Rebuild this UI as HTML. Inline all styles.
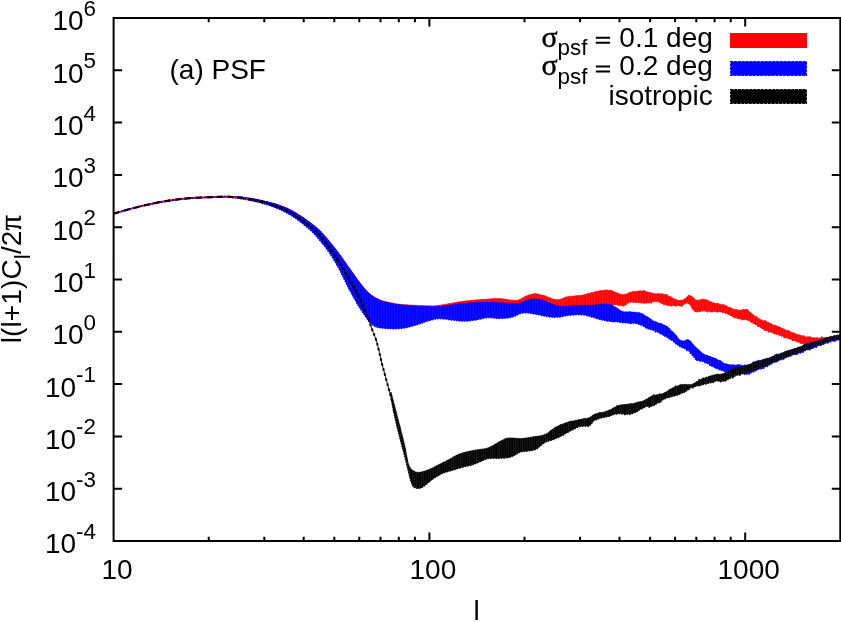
<!DOCTYPE html>
<html><head><meta charset="utf-8"><title>PSF power spectrum</title>
<style>
html,body{margin:0;padding:0;background:#fff;}
body{width:841px;height:622px;overflow:hidden;position:relative;font-family:"Liberation Sans",sans-serif;}
</style></head><body>
<svg width="841" height="622" viewBox="0 0 841 622" style="position:absolute;left:0;top:0;will-change:transform;opacity:0.999">
<rect width="841" height="622" fill="#fff"/>
<defs>
<pattern id="vr" width="2.7" height="8" patternUnits="userSpaceOnUse"><rect width="1.1" height="8" fill="#ff1c1c"/></pattern>
<pattern id="vb" width="2.7" height="8" patternUnits="userSpaceOnUse"><rect width="1.1" height="8" fill="#1414ff"/></pattern>
<pattern id="vk" width="2.3" height="8" patternUnits="userSpaceOnUse"><rect width="1.0" height="8" fill="#1c1c1c"/></pattern>
</defs>
<path d="M232.0,196.8 L233.0,196.8 L234.4,196.8 L236.1,196.8 L238.0,196.9 L240.0,197.0 L241.3,197.1 L242.7,197.3 L244.2,197.4 L245.8,197.6 L247.4,197.8 L249.0,198.0 L250.6,198.3 L252.1,198.5 L253.6,198.8 L255.1,199.0 L256.6,199.3 L258.1,199.6 L259.6,199.9 L261.1,200.2 L262.6,200.6 L264.1,200.9 L265.6,201.3 L267.1,201.6 L268.6,202.0 L270.1,202.4 L271.7,202.8 L273.2,203.2 L274.7,203.6 L276.2,204.1 L277.5,204.5 L278.9,205.0 L280.2,205.4 L281.6,205.9 L282.9,206.4 L284.3,206.9 L285.6,207.5 L287.0,208.1 L288.3,208.7 L289.6,209.4 L291.0,210.0 L292.3,210.8 L293.6,211.5 L295.0,212.3 L296.3,213.1 L297.6,213.9 L299.0,214.7 L300.3,215.6 L301.5,216.4 L302.8,217.2 L304.1,218.1 L305.3,219.0 L306.6,219.9 L307.9,220.8 L309.1,221.7 L310.3,222.6 L311.4,223.4 L312.4,224.2 L313.7,225.2 L314.8,226.1 L315.9,226.9 L316.8,227.7 L317.8,228.5 L318.8,229.5 L320.0,230.6 L320.9,231.5 L321.8,232.5 L322.7,233.5 L323.7,234.6 L324.7,235.7 L325.7,236.8 L326.6,238.0 L327.6,239.2 L328.6,240.3 L329.6,241.5 L330.6,242.7 L331.5,243.9 L332.5,245.1 L333.5,246.3 L334.5,247.5 L335.4,248.8 L336.4,250.1 L337.4,251.3 L338.3,252.6 L339.3,253.9 L340.2,255.1 L341.1,256.3 L341.9,257.5 L342.8,258.7 L343.7,260.0 L344.5,261.2 L345.4,262.4 L346.3,263.7 L347.1,264.9 L348.0,266.2 L348.9,267.4 L349.8,268.6 L350.7,269.9 L351.5,271.1 L352.4,272.4 L353.3,273.6 L354.2,274.9 L355.1,276.1 L356.0,277.4 L356.8,278.6 L357.7,279.7 L358.6,280.9 L359.6,282.2 L360.5,283.4 L361.5,284.7 L362.4,285.9 L363.4,287.2 L364.4,288.3 L365.3,289.5 L366.3,290.6 L367.2,291.6 L368.2,292.5 L369.4,293.6 L370.6,294.5 L371.8,295.3 L373.0,296.1 L374.2,296.8 L375.4,297.5 L376.6,298.1 L377.8,298.7 L379.1,299.3 L380.4,299.9 L381.7,300.4 L382.9,300.8 L384.3,301.2 L385.8,301.6 L387.5,302.0 L388.8,302.3 L390.1,302.6 L391.4,302.8 L392.8,303.1 L394.2,303.4 L395.7,303.6 L397.3,303.9 L399.1,304.1 L400.9,304.3 L402.9,304.5 L404.2,304.6 L405.5,304.7 L407.0,304.8 L408.5,304.9 L410.1,305.0 L411.8,305.1 L413.5,305.2 L415.2,305.3 L416.8,305.4 L418.5,305.5 L420.2,305.5 L421.8,305.6 L423.3,305.7 L424.8,305.7 L426.2,305.7 L427.4,305.8 L428.6,305.8 L430.6,305.8 L432.2,305.9 L433.4,305.9 L434.4,305.8 L435.4,305.8 L436.6,305.6 L438.1,305.5 L440.0,305.2 L441.1,305.0 L442.4,304.8 L443.7,304.6 L445.1,304.4 L446.5,304.1 L448.0,303.8 L449.6,303.5 L451.1,303.2 L452.7,302.9 L454.3,302.6 L455.9,302.4 L457.6,302.1 L459.2,301.8 L460.7,301.5 L462.3,301.3 L463.8,301.1 L465.3,300.9 L466.9,300.7 L468.4,300.6 L470.0,300.4 L471.6,300.2 L473.2,300.1 L474.9,300.0 L476.4,299.8 L478.0,299.7 L479.5,299.6 L481.0,299.5 L482.5,299.3 L483.9,299.2 L485.2,299.2 L486.4,299.1 L487.6,299.0 L489.6,298.9 L491.3,298.7 L492.7,298.6 L494.0,298.5 L495.2,298.5 L496.5,298.4 L497.9,298.5 L499.5,298.5 L500.9,298.4 L502.3,298.8 L503.9,298.9 L505.5,299.3 L507.1,299.5 L508.8,299.7 L510.4,300.0 L512.0,300.3 L513.5,300.2 L514.8,300.3 L516.1,300.5 L517.8,300.1 L519.3,299.6 L520.7,298.9 L521.9,298.2 L523.1,297.5 L524.3,296.8 L525.6,296.2 L527.0,295.8 L528.3,295.1 L529.7,294.8 L531.0,294.4 L532.4,294.1 L533.7,293.8 L535.1,293.6 L536.7,293.9 L538.2,293.9 L539.7,294.5 L541.3,294.9 L542.9,295.2 L544.6,295.5 L546.0,296.2 L547.4,296.7 L548.9,297.5 L550.4,297.8 L551.9,298.7 L553.5,299.1 L555.0,299.6 L556.5,299.5 L558.0,299.7 L559.4,299.4 L560.9,298.9 L562.3,298.6 L563.8,298.0 L565.3,297.0 L566.8,296.9 L568.4,296.5 L569.7,296.2 L571.1,296.4 L572.6,296.1 L574.1,296.1 L575.5,295.8 L577.0,295.5 L578.5,295.5 L580.0,295.5 L581.4,295.2 L582.7,295.0 L584.3,294.5 L585.8,294.3 L587.3,293.5 L588.8,293.5 L590.2,292.9 L591.7,292.5 L593.1,292.4 L594.6,291.9 L596.1,291.3 L597.7,291.3 L599.3,290.8 L600.9,290.6 L602.4,290.5 L603.9,290.2 L605.2,289.9 L606.5,289.9 L608.2,290.3 L609.6,290.4 L610.8,290.1 L612.1,290.8 L613.6,291.3 L614.8,292.1 L616.1,292.6 L617.5,292.9 L618.9,293.6 L620.3,294.1 L621.7,294.6 L623.1,294.5 L624.4,294.2 L625.8,294.1 L627.1,293.7 L628.4,293.2 L629.8,292.1 L631.2,292.3 L632.6,291.6 L634.1,291.4 L635.7,291.5 L637.3,291.2 L638.9,290.9 L640.5,290.7 L642.1,291.3 L643.7,290.3 L645.2,291.2 L646.7,291.7 L648.2,292.1 L649.7,292.4 L651.2,292.7 L652.7,293.3 L654.2,293.5 L655.7,293.7 L657.3,293.9 L658.8,293.2 L660.4,294.1 L661.9,293.6 L663.3,294.2 L664.7,294.4 L666.2,294.3 L667.5,294.8 L668.7,296.5 L670.0,296.3 L671.2,297.1 L672.6,297.9 L674.1,298.8 L675.6,299.3 L677.2,299.9 L678.8,300.3 L680.3,300.3 L681.8,300.3 L683.2,299.8 L684.5,298.9 L685.9,297.9 L687.1,296.7 L688.4,295.3 L689.6,295.2 L691.0,295.9 L692.3,296.8 L693.5,297.5 L694.8,299.2 L696.2,300.1 L697.7,300.2 L699.1,300.3 L700.7,299.4 L702.3,299.1 L704.1,299.2 L705.5,299.4 L706.9,300.1 L708.4,300.5 L710.0,301.4 L711.5,302.1 L713.1,302.7 L714.6,303.1 L716.1,303.7 L717.6,303.1 L719.1,304.0 L720.6,304.2 L722.1,304.8 L723.6,304.3 L725.1,305.5 L726.4,305.5 L727.7,306.7 L729.0,307.6 L730.4,307.2 L731.7,308.6 L733.0,308.8 L734.3,309.5 L735.6,309.3 L737.1,309.7 L738.6,310.1 L740.1,310.0 L741.6,310.1 L743.1,309.3 L744.6,309.5 L746.1,309.5 L747.3,309.1 L748.5,310.9 L749.6,311.4 L750.8,312.5 L752.0,314.1 L753.2,314.5 L754.3,315.7 L755.5,316.8 L756.7,316.5 L758.0,318.0 L759.3,318.8 L760.6,319.7 L762.0,319.7 L763.3,321.3 L764.6,320.3 L765.9,320.8 L767.2,322.3 L768.7,322.3 L770.1,323.5 L771.6,323.7 L773.0,325.3 L774.5,325.0 L776.1,325.8 L777.7,326.2 L779.0,326.6 L780.4,327.6 L781.9,328.0 L783.3,328.7 L784.8,329.5 L786.3,330.0 L787.8,330.4 L789.3,330.6 L790.8,332.3 L792.3,332.4 L793.8,332.7 L795.3,333.4 L796.8,334.3 L798.3,334.7 L799.8,334.8 L801.2,335.7 L802.7,335.8 L804.0,335.5 L805.6,336.9 L807.2,336.7 L808.7,336.8 L810.1,336.6 L811.6,337.8 L813.0,337.5 L814.5,338.1 L816.0,337.4 L817.4,337.4 L818.7,338.2 L820.2,337.8 L821.7,336.5 L823.2,337.7 L825.0,337.4 L826.4,337.4 L828.0,337.3 L829.7,336.9 L831.5,337.1 L833.3,336.2 L835.1,335.8 L836.7,335.7 L838.1,335.5 L839.4,335.1 L840.3,334.9 L840.3,337.5 L839.4,337.8 L838.1,337.3 L836.7,337.7 L835.1,337.6 L833.3,338.0 L831.5,338.8 L829.7,338.5 L828.0,340.6 L826.4,338.8 L825.0,340.1 L823.2,340.2 L821.7,340.5 L820.2,340.6 L818.7,341.4 L817.4,341.2 L816.0,342.3 L814.5,342.0 L813.0,342.2 L811.6,343.1 L810.1,343.6 L808.7,343.4 L807.2,344.2 L805.6,344.0 L804.0,343.4 L802.7,343.3 L801.2,343.5 L799.8,342.4 L798.3,342.0 L796.8,341.5 L795.3,340.7 L793.8,340.4 L792.3,340.3 L790.8,338.7 L789.3,339.1 L787.8,337.7 L786.3,337.6 L784.8,338.1 L783.3,336.2 L781.9,335.9 L780.4,335.6 L779.0,334.8 L777.7,334.2 L776.0,333.9 L774.4,333.7 L772.8,332.8 L771.3,332.0 L769.9,331.7 L768.5,331.8 L767.2,330.5 L765.6,330.6 L764.1,329.9 L762.7,328.4 L761.4,328.2 L760.0,326.8 L758.8,326.6 L757.5,325.9 L756.3,324.7 L755.0,323.8 L753.8,323.8 L752.6,322.4 L751.3,322.1 L750.1,321.6 L748.9,320.3 L747.6,320.1 L746.1,319.5 L744.7,319.2 L743.3,319.4 L741.7,319.7 L740.1,318.0 L738.3,319.1 L736.5,317.3 L735.2,317.5 L733.9,317.8 L732.4,316.0 L731.0,315.4 L729.5,314.8 L728.0,314.0 L726.5,313.2 L725.0,312.9 L723.6,312.4 L722.1,312.1 L720.6,311.6 L719.1,311.4 L717.6,311.9 L716.1,311.8 L714.6,311.2 L713.2,311.1 L711.9,312.1 L710.8,311.7 L708.8,311.1 L707.4,311.8 L706.0,311.3 L704.3,310.4 L702.8,310.7 L701.2,310.8 L699.5,311.5 L697.8,311.6 L696.2,312.1 L694.7,311.0 L693.6,310.0 L692.7,309.1 L691.8,307.7 L691.0,306.0 L690.2,304.8 L689.3,303.8 L688.3,303.5 L687.0,302.5 L685.7,303.2 L684.3,303.9 L682.9,304.9 L681.5,306.3 L680.2,305.7 L678.7,305.3 L677.2,305.3 L675.7,306.2 L674.2,305.2 L672.6,305.5 L671.2,305.8 L669.8,305.3 L668.4,305.5 L666.9,305.0 L665.5,304.5 L664.1,304.6 L662.7,303.4 L661.4,303.2 L660.0,302.3 L658.7,301.9 L657.3,301.2 L656.0,301.3 L654.4,301.2 L652.8,301.8 L651.2,303.0 L649.6,302.6 L648.0,302.7 L646.4,302.8 L644.9,303.0 L643.3,303.0 L641.7,302.6 L640.0,302.8 L638.5,302.2 L636.9,302.4 L635.2,302.2 L633.6,302.2 L632.0,301.6 L630.5,302.0 L628.9,302.4 L627.5,303.1 L626.1,304.3 L624.7,305.2 L623.1,305.8 L621.6,305.5 L620.0,305.3 L618.3,305.1 L616.7,304.7 L615.1,304.4 L613.6,304.5 L612.1,305.2 L610.8,304.8 L609.6,304.9 L608.2,305.1 L606.5,306.4 L605.5,306.6 L604.4,307.4 L603.3,308.5 L602.1,309.9 L600.9,310.8 L599.6,312.4 L598.3,313.2 L597.1,314.0 L595.8,314.9 L594.6,315.2 L593.1,315.4 L591.7,315.3 L590.2,314.8 L588.8,314.3 L587.3,313.6 L585.8,313.0 L584.3,312.8 L582.7,312.4 L581.4,312.2 L580.0,311.9 L578.5,312.1 L577.0,312.5 L575.5,312.3 L574.1,312.1 L572.6,312.5 L571.1,312.4 L569.7,313.2 L568.4,312.7 L566.8,313.0 L565.2,313.2 L563.7,313.4 L562.1,313.7 L560.7,313.9 L559.2,314.5 L557.9,314.4 L556.5,314.7 L554.8,314.7 L553.2,314.9 L551.8,314.7 L550.3,314.4 L548.7,314.2 L547.0,313.8 L545.6,313.7 L544.2,313.3 L542.7,312.9 L541.2,312.9 L539.7,312.5 L538.1,312.3 L536.6,311.8 L535.1,311.7 L533.6,311.4 L532.1,310.9 L530.6,310.7 L529.2,310.4 L527.7,310.4 L526.2,310.2 L524.7,310.3 L523.2,310.4 L521.7,310.6 L520.2,311.1 L518.7,311.6 L517.2,312.3 L515.8,313.0 L514.3,313.6 L512.8,314.2 L511.3,314.7 L509.8,315.0 L508.3,315.1 L506.9,315.4 L505.4,315.6 L503.9,315.7 L502.5,315.8 L501.0,315.8 L499.5,315.8 L498.0,315.7 L496.5,315.6 L495.0,315.5 L493.6,315.4 L492.1,315.2 L490.6,315.1 L489.1,315.1 L487.6,315.1 L486.1,315.3 L484.6,315.5 L483.1,315.8 L481.7,316.1 L480.2,316.5 L478.7,316.8 L477.2,317.2 L475.7,317.4 L474.2,317.6 L472.7,317.8 L471.2,318.0 L469.8,318.2 L468.3,318.4 L466.8,318.5 L465.3,318.6 L463.8,318.6 L462.3,318.6 L460.9,318.5 L459.4,318.3 L457.9,318.2 L456.4,318.0 L455.0,317.8 L453.4,317.6 L451.9,317.4 L450.5,317.2 L449.0,317.1 L447.5,316.8 L446.0,316.6 L444.6,316.5 L443.1,316.3 L441.6,316.2 L440.2,316.1 L438.9,316.1 L437.3,316.2 L435.8,316.4 L434.4,316.6 L433.0,317.0 L431.6,317.3 L430.2,317.8 L428.6,318.2 L427.3,318.6 L425.9,319.0 L424.5,319.5 L423.1,320.0 L421.6,320.6 L420.2,321.1 L418.7,321.6 L417.2,322.1 L415.8,322.5 L414.4,322.9 L412.9,323.3 L411.5,323.7 L410.1,324.1 L408.6,324.5 L407.2,324.8 L405.8,325.1 L404.3,325.4 L402.9,325.6 L401.5,325.8 L400.0,325.9 L398.6,326.0 L397.1,326.1 L395.7,326.2 L394.2,326.2 L392.8,326.2 L391.4,326.1 L390.0,326.1 L388.4,326.0 L386.8,325.9 L385.1,325.8 L383.5,325.6 L381.9,325.4 L380.4,325.2 L379.0,325.0 L377.8,324.7 L375.9,324.2 L374.5,323.6 L373.3,322.8 L372.0,321.8 L371.1,320.9 L370.2,320.0 L369.3,318.9 L368.3,317.8 L367.4,316.5 L366.3,315.0 L365.5,314.0 L364.8,312.9 L364.0,311.7 L363.1,310.5 L362.3,309.3 L361.4,307.9 L360.5,306.5 L359.6,305.1 L358.6,303.5 L357.9,302.4 L357.2,301.2 L356.5,299.9 L355.8,298.6 L355.0,297.3 L354.3,296.0 L353.5,294.6 L352.7,293.2 L351.9,291.8 L351.2,290.4 L350.4,288.9 L349.6,287.5 L348.9,286.1 L348.2,284.8 L347.5,283.4 L346.8,282.0 L346.2,280.6 L345.5,279.2 L344.8,277.8 L344.1,276.4 L343.4,275.0 L342.7,273.5 L342.0,272.2 L341.4,270.8 L340.7,269.4 L340.0,268.1 L339.3,266.8 L338.6,265.4 L337.8,264.1 L337.1,262.8 L336.3,261.4 L335.6,260.1 L334.8,258.9 L334.1,257.6 L333.3,256.3 L332.6,255.1 L331.8,253.9 L331.1,252.8 L330.3,251.6 L329.6,250.5 L328.6,249.1 L327.6,247.7 L326.6,246.4 L325.7,245.1 L324.7,243.8 L323.7,242.6 L322.7,241.4 L321.8,240.3 L320.9,239.2 L320.0,238.1 L319.0,236.9 L318.1,235.7 L317.2,234.7 L316.4,233.7 L315.5,232.7 L314.6,231.7 L313.6,230.6 L312.4,229.5 L311.5,228.6 L310.5,227.7 L309.4,226.7 L308.3,225.7 L307.2,224.7 L306.0,223.7 L304.9,222.8 L303.7,221.8 L302.6,220.9 L301.4,220.1 L300.3,219.3 L299.0,218.5 L297.6,217.7 L296.3,217.0 L295.0,216.4 L293.6,215.8 L292.3,215.2 L291.0,214.6 L289.6,214.0 L288.3,213.4 L287.0,212.7 L285.6,212.1 L284.3,211.4 L282.9,210.7 L281.6,210.1 L280.2,209.4 L278.9,208.8 L277.5,208.2 L276.2,207.6 L274.9,207.1 L273.5,206.5 L272.2,206.0 L270.8,205.6 L269.5,205.1 L268.1,204.7 L266.8,204.2 L265.4,203.8 L264.1,203.4 L262.6,203.0 L261.1,202.5 L259.6,202.2 L258.1,201.8 L256.6,201.4 L255.1,201.1 L253.6,200.7 L252.1,200.4 L250.6,200.1 L249.0,199.8 L247.4,199.5 L245.8,199.2 L244.2,198.9 L242.7,198.6 L241.3,198.4 L240.0,198.2 L238.0,197.9 L236.1,197.7 L234.4,197.5 L233.0,197.4 L232.0,197.3Z" fill="#ff0000" stroke="#ff0000" stroke-width="0.5"/>
<path d="M232.0,197.3 L233.0,197.4 L234.4,197.5 L236.1,197.7 L238.0,197.9 L240.0,198.2 L241.3,198.4 L242.7,198.6 L244.2,198.9 L245.8,199.2 L247.4,199.5 L249.0,199.8 L250.6,200.1 L252.1,200.4 L253.6,200.7 L255.1,201.1 L256.6,201.4 L258.1,201.8 L259.6,202.2 L261.1,202.5 L262.6,203.0 L264.1,203.4 L265.4,203.8 L266.8,204.2 L268.1,204.7 L269.5,205.1 L270.8,205.6 L272.2,206.0 L273.5,206.5 L274.9,207.1 L276.2,207.6 L277.5,208.2 L278.9,208.8 L280.2,209.4 L281.6,210.1 L282.9,210.7 L284.3,211.4 L285.6,212.1 L287.0,212.7 L288.3,213.4 L289.6,214.0 L291.0,214.6 L292.3,215.2 L293.6,215.8 L295.0,216.4 L296.3,217.0 L297.6,217.7 L299.0,218.5 L300.3,219.3 L301.4,220.1 L302.6,220.9 L303.7,221.8 L304.9,222.8 L306.0,223.7 L307.2,224.7 L308.3,225.7 L309.4,226.7 L310.5,227.7 L311.5,228.6 L312.4,229.5 L313.6,230.6 L314.6,231.7 L315.5,232.7 L316.4,233.7 L317.2,234.7 L318.1,235.7 L319.0,236.9 L320.0,238.1 L320.9,239.2 L321.8,240.3 L322.7,241.4 L323.7,242.6 L324.7,243.8 L325.7,245.1 L326.6,246.4 L327.6,247.7 L328.6,249.1 L329.6,250.5 L330.3,251.6 L331.1,252.8 L331.8,253.9 L332.6,255.1 L333.3,256.3 L334.1,257.6 L334.8,258.9 L335.6,260.1 L336.3,261.4 L337.1,262.8 L337.8,264.1 L338.6,265.4 L339.3,266.8 L340.0,268.1 L340.7,269.4 L341.4,270.8 L342.0,272.2 L342.7,273.5 L343.4,275.0 L344.1,276.4 L344.8,277.8 L345.5,279.2 L346.2,280.6 L346.8,282.0 L347.5,283.4 L348.2,284.8 L348.9,286.1 L349.6,287.5 L350.4,288.9 L351.2,290.4 L351.9,291.8 L352.7,293.2 L353.5,294.6 L354.3,296.0 L355.0,297.3 L355.8,298.6 L356.5,299.9 L357.2,301.2 L357.9,302.4 L358.6,303.5 L359.6,305.1 L360.5,306.5 L361.4,307.9 L362.3,309.3 L363.1,310.5 L364.0,311.7 L364.8,312.9 L365.5,314.0 L366.3,315.0 L367.4,316.5 L368.3,317.8 L369.3,318.9 L370.2,320.0 L371.1,320.9 L372.0,321.8 L373.3,322.8 L374.5,323.6 L375.9,324.2 L377.8,324.7 L379.0,325.0 L380.4,325.2 L381.9,325.4 L383.5,325.6 L385.1,325.8 L386.8,325.9 L388.4,326.0 L390.0,326.1 L391.4,326.1 L392.8,326.2 L394.2,326.2 L395.7,326.2 L397.1,326.1 L398.6,326.0 L400.0,325.9 L401.5,325.8 L402.9,325.6 L404.3,325.4 L405.8,325.1 L407.2,324.8 L408.6,324.5 L410.1,324.1 L411.5,323.7 L412.9,323.3 L414.4,322.9 L415.8,322.5 L417.2,322.1 L418.7,321.6 L420.2,321.1 L421.6,320.6 L423.1,320.0 L424.5,319.5 L425.9,319.0 L427.3,318.6 L428.6,318.2 L430.2,317.8 L431.6,317.3 L433.0,317.0 L434.4,316.6 L435.8,316.4 L437.3,316.2 L438.9,316.1 L440.2,316.1 L441.6,316.2 L443.1,316.3 L444.6,316.5 L446.0,316.6 L447.5,316.8 L449.0,317.1 L450.5,317.2 L451.9,317.4 L453.4,317.6 L455.0,317.8 L456.4,318.0 L457.9,318.2 L459.4,318.3 L460.9,318.5 L462.3,318.6 L463.8,318.6 L465.3,318.6 L466.8,318.5 L468.3,318.4 L469.8,318.2 L471.2,318.0 L472.7,317.8 L474.2,317.6 L475.7,317.4 L477.2,317.2 L478.7,316.8 L480.2,316.5 L481.7,316.1 L483.1,315.8 L484.6,315.5 L486.1,315.3 L487.6,315.1 L489.1,315.1 L490.6,315.1 L492.1,315.2 L493.6,315.4 L495.0,315.5 L496.5,315.6 L498.0,315.7 L499.5,315.8 L501.0,315.8 L502.5,315.8 L503.9,315.7 L505.4,315.6 L506.9,315.4 L508.3,315.1 L509.8,315.0 L511.3,314.7 L512.8,314.2 L514.3,313.6 L515.8,313.0 L517.2,312.3 L518.7,311.6 L520.2,311.1 L521.7,310.6 L523.2,310.4 L524.7,310.3 L526.2,310.2 L527.7,310.4 L529.2,310.4 L530.6,310.7 L532.1,310.9 L533.6,311.4 L535.1,311.7 L536.6,311.8 L538.1,312.3 L539.7,312.5 L541.2,312.9 L542.7,312.9 L544.2,313.3 L545.6,313.7 L547.0,313.8 L548.7,314.2 L550.3,314.4 L551.8,314.7 L553.2,314.9 L554.8,314.7 L556.5,314.7 L557.9,314.4 L559.2,314.5 L560.7,313.9 L562.1,313.7 L563.7,313.4 L565.2,313.2 L566.8,313.0 L568.4,312.7 L569.7,313.2 L571.1,312.4 L572.6,312.5 L574.1,312.1 L575.5,312.3 L577.0,312.5 L578.5,312.1 L580.0,311.9 L581.4,312.2 L582.7,312.4 L584.3,312.8 L585.8,313.0 L587.3,313.6 L588.8,314.3 L590.2,314.8 L591.7,315.3 L593.1,315.4 L594.6,315.2 L595.8,314.9 L597.1,314.0 L598.3,313.2 L599.6,312.4 L600.9,310.8 L602.1,309.9 L603.3,308.5 L604.4,307.4 L605.5,306.6 L606.5,306.4 L608.2,305.1 L609.6,304.9 L610.8,304.8 L612.1,305.2 L613.6,304.5 L615.1,304.4 L616.7,304.7 L618.3,305.1 L620.0,305.3 L621.6,305.5 L623.1,305.8 L624.7,305.2 L626.1,304.3 L627.5,303.1 L628.9,302.4 L630.5,302.0 L632.0,301.6 L633.6,302.2 L635.2,302.2 L636.9,302.4 L638.5,302.2 L640.0,302.8 L641.7,302.6 L643.3,303.0 L644.9,303.0 L646.4,302.8 L648.0,302.7 L649.6,302.6 L651.2,303.0 L652.8,301.8 L654.4,301.2 L656.0,301.3 L657.3,301.2 L658.7,301.9 L660.0,302.3 L661.4,303.2 L662.7,303.4 L664.1,304.6 L665.5,304.5 L666.9,305.0 L668.4,305.5 L669.8,305.3 L671.2,305.8 L672.6,305.5 L674.2,305.2 L675.7,306.2 L677.2,305.3 L678.7,305.3 L680.2,305.7 L681.5,306.3 L682.9,304.9 L684.3,303.9 L685.7,303.2 L687.0,302.5 L688.3,303.5 L689.3,303.8 L690.2,304.8 L691.0,306.0 L691.8,307.7 L692.7,309.1 L693.6,310.0 L694.7,311.0 L696.2,312.1 L697.8,311.6 L699.5,311.5 L701.2,310.8 L702.8,310.7 L704.3,310.4 L706.0,311.3 L707.4,311.8 L708.8,311.1 L710.8,311.7 L711.9,312.1 L713.2,311.1 L714.6,311.2 L716.1,311.8 L717.6,311.9 L719.1,311.4 L720.6,311.6 L722.1,312.1 L723.6,312.4 L725.0,312.9 L726.5,313.2 L728.0,314.0 L729.5,314.8 L731.0,315.4 L732.4,316.0 L733.9,317.8 L735.2,317.5 L736.5,317.3 L738.3,319.1 L740.1,318.0 L741.7,319.7 L743.3,319.4 L744.7,319.2 L746.1,319.5 L747.6,320.1 L748.9,320.3 L750.1,321.6 L751.3,322.1 L752.6,322.4 L753.8,323.8 L755.0,323.8 L756.3,324.7 L757.5,325.9 L758.8,326.6 L760.0,326.8 L761.4,328.2 L762.7,328.4 L764.1,329.9 L765.6,330.6 L767.2,330.5 L768.5,331.8 L769.9,331.7 L771.3,332.0 L772.8,332.8 L774.4,333.7 L776.0,333.9 L777.7,334.2 L779.0,334.8 L780.4,335.6 L781.9,335.9 L783.3,336.2 L784.8,338.1 L786.3,337.6 L787.8,337.7 L789.3,339.1 L790.8,338.7 L792.3,340.3 L793.8,340.4 L795.3,340.7 L796.8,341.5 L798.3,342.0 L799.8,342.4 L801.2,343.5 L802.7,343.3 L804.0,343.4 L805.6,344.0 L807.2,344.2 L808.7,343.4 L810.1,343.6 L811.6,343.1 L813.0,342.2 L814.5,342.0 L816.0,342.3 L817.4,341.2 L818.7,341.4 L820.2,340.6 L821.7,340.5 L823.2,340.2 L825.0,340.1 L826.4,338.8 L828.0,340.6 L829.7,338.5 L831.5,338.8 L833.3,338.0 L835.1,337.6 L836.7,337.7 L838.1,337.3 L839.4,337.8 L840.3,337.5" fill="none" stroke="#ff0000" stroke-width="1.5" stroke-dasharray="1.3 1.4" stroke-linejoin="round"/>
<path d="M232.0,196.8 L233.0,196.8 L234.4,196.8 L236.1,196.8 L238.0,196.9 L240.0,197.0 L241.3,197.1 L242.7,197.3 L244.2,197.4 L245.8,197.6 L247.4,197.8 L249.0,198.0 L250.6,198.3 L252.1,198.5 L253.6,198.8 L255.1,199.0 L256.6,199.3 L258.1,199.6 L259.6,199.9 L261.1,200.2 L262.6,200.6 L264.1,200.9 L265.6,201.3 L267.1,201.6 L268.6,202.0 L270.1,202.4 L271.7,202.8 L273.2,203.2 L274.7,203.6 L276.2,204.1 L277.5,204.5 L278.9,205.0 L280.2,205.4 L281.6,205.9 L282.9,206.4 L284.3,206.9 L285.6,207.5 L287.0,208.1 L288.3,208.7 L289.6,209.4 L291.0,210.0 L292.3,210.8 L293.6,211.5 L295.0,212.3 L296.3,213.1 L297.6,213.9 L299.0,214.7 L300.3,215.6 L301.5,216.4 L302.8,217.2 L304.1,218.1 L305.3,219.0 L306.6,219.9 L307.9,220.8 L309.1,221.7 L310.3,222.6 L311.4,223.4 L312.4,224.2 L313.7,225.2 L314.8,226.1 L315.9,226.9 L316.8,227.7 L317.8,228.5 L318.8,229.5 L320.0,230.6 L320.9,231.5 L321.8,232.5 L322.7,233.5 L323.7,234.6 L324.7,235.7 L325.7,236.8 L326.6,238.0 L327.6,239.2 L328.6,240.3 L329.6,241.5 L330.6,242.7 L331.5,243.9 L332.5,245.1 L333.5,246.3 L334.5,247.5 L335.4,248.8 L336.4,250.1 L337.4,251.3 L338.3,252.6 L339.3,253.9 L340.2,255.1 L341.1,256.3 L341.9,257.5 L342.8,258.7 L343.7,260.0 L344.5,261.2 L345.4,262.4 L346.3,263.7 L347.1,264.9 L348.0,266.2 L348.9,267.4 L349.8,268.6 L350.7,269.9 L351.5,271.1 L352.4,272.4 L353.3,273.6 L354.2,274.9 L355.1,276.1 L356.0,277.4 L356.8,278.6 L357.7,279.7 L358.6,280.9 L359.6,282.2 L360.5,283.4 L361.5,284.7 L362.4,285.9 L363.4,287.2 L364.4,288.3 L365.3,289.5 L366.3,290.6 L367.2,291.6 L368.2,292.5 L369.4,293.6 L370.6,294.5 L371.8,295.3 L373.0,296.1 L374.2,296.8 L375.4,297.5 L376.6,298.1 L377.8,298.7 L379.1,299.3 L380.4,299.9 L381.7,300.4 L382.9,300.8 L384.3,301.2 L385.8,301.6 L387.5,302.0 L388.8,302.3 L390.1,302.6 L391.4,302.8 L392.8,303.1 L394.2,303.4 L395.7,303.6 L397.3,303.9 L399.1,304.1 L400.9,304.3 L402.9,304.5 L404.2,304.6 L405.5,304.7 L407.0,304.8 L408.5,304.9 L410.1,305.0 L411.8,305.1 L413.5,305.2 L415.2,305.3 L416.8,305.4 L418.5,305.5 L420.2,305.5 L421.8,305.6 L423.3,305.7 L424.8,305.7 L426.2,305.7 L427.4,305.8 L428.6,305.8 L430.6,305.8 L432.2,305.9 L433.4,305.9 L434.4,305.8 L435.4,305.8 L436.6,305.6 L438.1,305.5 L440.0,305.2 L441.1,305.0 L442.4,304.8 L443.7,304.6 L445.1,304.4 L446.5,304.1 L448.0,303.8 L449.6,303.5 L451.1,303.2 L452.7,302.9 L454.3,302.6 L455.9,302.4 L457.6,302.1 L459.2,301.8 L460.7,301.5 L462.3,301.3 L463.8,301.1 L465.3,300.9 L466.9,300.7 L468.4,300.6 L470.0,300.4 L471.6,300.2 L473.2,300.1 L474.9,300.0 L476.4,299.8 L478.0,299.7 L479.5,299.6 L481.0,299.5 L482.5,299.3 L483.9,299.2 L485.2,299.2 L486.4,299.1 L487.6,299.0 L489.6,298.9 L491.3,298.7 L492.7,298.6 L494.0,298.5 L495.2,298.5 L496.5,298.4 L497.9,298.5 L499.5,298.5 L500.9,298.4 L502.3,298.8 L503.9,298.9 L505.5,299.3 L507.1,299.5 L508.8,299.7 L510.4,300.0 L512.0,300.3 L513.5,300.2 L514.8,300.3 L516.1,300.5 L517.8,300.1 L519.3,299.6 L520.7,298.9 L521.9,298.2 L523.1,297.5 L524.3,296.8 L525.6,296.2 L527.0,295.8 L528.3,295.1 L529.7,294.8 L531.0,294.4 L532.4,294.1 L533.7,293.8 L535.1,293.6 L536.7,293.9 L538.2,293.9 L539.7,294.5 L541.3,294.9 L542.9,295.2 L544.6,295.5 L546.0,296.2 L547.4,296.7 L548.9,297.5 L550.4,297.8 L551.9,298.7 L553.5,299.1 L555.0,299.6 L556.5,299.5 L558.0,299.7 L559.4,299.4 L560.9,298.9 L562.3,298.6 L563.8,298.0 L565.3,297.0 L566.8,296.9 L568.4,296.5 L569.7,296.2 L571.1,296.4 L572.6,296.1 L574.1,296.1 L575.5,295.8 L577.0,295.5 L578.5,295.5 L580.0,295.5 L581.4,295.2 L582.7,295.0 L584.3,294.5 L585.8,294.3 L587.3,293.5 L588.8,293.5 L590.2,292.9 L591.7,292.5 L593.1,292.4 L594.6,291.9 L596.1,291.3 L597.7,291.3 L599.3,290.8 L600.9,290.6 L602.4,290.5 L603.9,290.2 L605.2,289.9 L606.5,289.9 L608.2,290.3 L609.6,290.4 L610.8,290.1 L612.1,290.8 L613.6,291.3 L614.8,292.1 L616.1,292.6 L617.5,292.9 L618.9,293.6 L620.3,294.1 L621.7,294.6 L623.1,294.5 L624.4,294.2 L625.8,294.1 L627.1,293.7 L628.4,293.2 L629.8,292.1 L631.2,292.3 L632.6,291.6 L634.1,291.4 L635.7,291.5 L637.3,291.2 L638.9,290.9 L640.5,290.7 L642.1,291.3 L643.7,290.3 L645.2,291.2 L646.7,291.7 L648.2,292.1 L649.7,292.4 L651.2,292.7 L652.7,293.3 L654.2,293.5 L655.7,293.7 L657.3,293.9 L658.8,293.2 L660.4,294.1 L661.9,293.6 L663.3,294.2 L664.7,294.4 L666.2,294.3 L667.5,294.8 L668.7,296.5 L670.0,296.3 L671.2,297.1 L672.6,297.9 L674.1,298.8 L675.6,299.3 L677.2,299.9 L678.8,300.3 L680.3,300.3 L681.8,300.3 L683.2,299.8 L684.5,298.9 L685.9,297.9 L687.1,296.7 L688.4,295.3 L689.6,295.2 L691.0,295.9 L692.3,296.8 L693.5,297.5 L694.8,299.2 L696.2,300.1 L697.7,300.2 L699.1,300.3 L700.7,299.4 L702.3,299.1 L704.1,299.2 L705.5,299.4 L706.9,300.1 L708.4,300.5 L710.0,301.4 L711.5,302.1 L713.1,302.7 L714.6,303.1 L716.1,303.7 L717.6,303.1 L719.1,304.0 L720.6,304.2 L722.1,304.8 L723.6,304.3 L725.1,305.5 L726.4,305.5 L727.7,306.7 L729.0,307.6 L730.4,307.2 L731.7,308.6 L733.0,308.8 L734.3,309.5 L735.6,309.3 L737.1,309.7 L738.6,310.1 L740.1,310.0 L741.6,310.1 L743.1,309.3 L744.6,309.5 L746.1,309.5 L747.3,309.1 L748.5,310.9 L749.6,311.4 L750.8,312.5 L752.0,314.1 L753.2,314.5 L754.3,315.7 L755.5,316.8 L756.7,316.5 L758.0,318.0 L759.3,318.8 L760.6,319.7 L762.0,319.7 L763.3,321.3 L764.6,320.3 L765.9,320.8 L767.2,322.3 L768.7,322.3 L770.1,323.5 L771.6,323.7 L773.0,325.3 L774.5,325.0 L776.1,325.8 L777.7,326.2 L779.0,326.6 L780.4,327.6 L781.9,328.0 L783.3,328.7 L784.8,329.5 L786.3,330.0 L787.8,330.4 L789.3,330.6 L790.8,332.3 L792.3,332.4 L793.8,332.7 L795.3,333.4 L796.8,334.3 L798.3,334.7 L799.8,334.8 L801.2,335.7 L802.7,335.8 L804.0,335.5 L805.6,336.9 L807.2,336.7 L808.7,336.8 L810.1,336.6 L811.6,337.8 L813.0,337.5 L814.5,338.1 L816.0,337.4 L817.4,337.4 L818.7,338.2 L820.2,337.8 L821.7,336.5 L823.2,337.7 L825.0,337.4 L826.4,337.4 L828.0,337.3 L829.7,336.9 L831.5,337.1 L833.3,336.2 L835.1,335.8 L836.7,335.7 L838.1,335.5 L839.4,335.1 L840.3,334.9 L840.3,337.5 L839.4,337.8 L838.1,337.3 L836.7,337.7 L835.1,337.6 L833.3,338.0 L831.5,338.8 L829.7,338.5 L828.0,340.6 L826.4,338.8 L825.0,340.1 L823.2,340.2 L821.7,340.5 L820.2,340.6 L818.7,341.4 L817.4,341.2 L816.0,342.3 L814.5,342.0 L813.0,342.2 L811.6,343.1 L810.1,343.6 L808.7,343.4 L807.2,344.2 L805.6,344.0 L804.0,343.4 L802.7,343.3 L801.2,343.5 L799.8,342.4 L798.3,342.0 L796.8,341.5 L795.3,340.7 L793.8,340.4 L792.3,340.3 L790.8,338.7 L789.3,339.1 L787.8,337.7 L786.3,337.6 L784.8,338.1 L783.3,336.2 L781.9,335.9 L780.4,335.6 L779.0,334.8 L777.7,334.2 L776.0,333.9 L774.4,333.7 L772.8,332.8 L771.3,332.0 L769.9,331.7 L768.5,331.8 L767.2,330.5 L765.6,330.6 L764.1,329.9 L762.7,328.4 L761.4,328.2 L760.0,326.8 L758.8,326.6 L757.5,325.9 L756.3,324.7 L755.0,323.8 L753.8,323.8 L752.6,322.4 L751.3,322.1 L750.1,321.6 L748.9,320.3 L747.6,320.1 L746.1,319.5 L744.7,319.2 L743.3,319.4 L741.7,319.7 L740.1,318.0 L738.3,319.1 L736.5,317.3 L735.2,317.5 L733.9,317.8 L732.4,316.0 L731.0,315.4 L729.5,314.8 L728.0,314.0 L726.5,313.2 L725.0,312.9 L723.6,312.4 L722.1,312.1 L720.6,311.6 L719.1,311.4 L717.6,311.9 L716.1,311.8 L714.6,311.2 L713.2,311.1 L711.9,312.1 L710.8,311.7 L708.8,311.1 L707.4,311.8 L706.0,311.3 L704.3,310.4 L702.8,310.7 L701.2,310.8 L699.5,311.5 L697.8,311.6 L696.2,312.1 L694.7,311.0 L693.6,310.0 L692.7,309.1 L691.8,307.7 L691.0,306.0 L690.2,304.8 L689.3,303.8 L688.3,303.5 L687.0,302.5 L685.7,303.2 L684.3,303.9 L682.9,304.9 L681.5,306.3 L680.2,305.7 L678.7,305.3 L677.2,305.3 L675.7,306.2 L674.2,305.2 L672.6,305.5 L671.2,305.8 L669.8,305.3 L668.4,305.5 L666.9,305.0 L665.5,304.5 L664.1,304.6 L662.7,303.4 L661.4,303.2 L660.0,302.3 L658.7,301.9 L657.3,301.2 L656.0,301.3 L654.4,301.2 L652.8,301.8 L651.2,303.0 L649.6,302.6 L648.0,302.7 L646.4,302.8 L644.9,303.0 L643.3,303.0 L641.7,302.6 L640.0,302.8 L638.5,302.2 L636.9,302.4 L635.2,302.2 L633.6,302.2 L632.0,301.6 L630.5,302.0 L628.9,302.4 L627.5,303.1 L626.1,304.3 L624.7,305.2 L623.1,305.8 L621.6,305.5 L620.0,305.3 L618.3,305.1 L616.7,304.7 L615.1,304.4 L613.6,304.5 L612.1,305.2 L610.8,304.8 L609.6,304.9 L608.2,305.1 L606.5,306.4 L605.5,306.6 L604.4,307.4 L603.3,308.5 L602.1,309.9 L600.9,310.8 L599.6,312.4 L598.3,313.2 L597.1,314.0 L595.8,314.9 L594.6,315.2 L593.1,315.4 L591.7,315.3 L590.2,314.8 L588.8,314.3 L587.3,313.6 L585.8,313.0 L584.3,312.8 L582.7,312.4 L581.4,312.2 L580.0,311.9 L578.5,312.1 L577.0,312.5 L575.5,312.3 L574.1,312.1 L572.6,312.5 L571.1,312.4 L569.7,313.2 L568.4,312.7 L566.8,313.0 L565.2,313.2 L563.7,313.4 L562.1,313.7 L560.7,313.9 L559.2,314.5 L557.9,314.4 L556.5,314.7 L554.8,314.7 L553.2,314.9 L551.8,314.7 L550.3,314.4 L548.7,314.2 L547.0,313.8 L545.6,313.7 L544.2,313.3 L542.7,312.9 L541.2,312.9 L539.7,312.5 L538.1,312.3 L536.6,311.8 L535.1,311.7 L533.6,311.4 L532.1,310.9 L530.6,310.7 L529.2,310.4 L527.7,310.4 L526.2,310.2 L524.7,310.3 L523.2,310.4 L521.7,310.6 L520.2,311.1 L518.7,311.6 L517.2,312.3 L515.8,313.0 L514.3,313.6 L512.8,314.2 L511.3,314.7 L509.8,315.0 L508.3,315.1 L506.9,315.4 L505.4,315.6 L503.9,315.7 L502.5,315.8 L501.0,315.8 L499.5,315.8 L498.0,315.7 L496.5,315.6 L495.0,315.5 L493.6,315.4 L492.1,315.2 L490.6,315.1 L489.1,315.1 L487.6,315.1 L486.1,315.3 L484.6,315.5 L483.1,315.8 L481.7,316.1 L480.2,316.5 L478.7,316.8 L477.2,317.2 L475.7,317.4 L474.2,317.6 L472.7,317.8 L471.2,318.0 L469.8,318.2 L468.3,318.4 L466.8,318.5 L465.3,318.6 L463.8,318.6 L462.3,318.6 L460.9,318.5 L459.4,318.3 L457.9,318.2 L456.4,318.0 L455.0,317.8 L453.4,317.6 L451.9,317.4 L450.5,317.2 L449.0,317.1 L447.5,316.8 L446.0,316.6 L444.6,316.5 L443.1,316.3 L441.6,316.2 L440.2,316.1 L438.9,316.1 L437.3,316.2 L435.8,316.4 L434.4,316.6 L433.0,317.0 L431.6,317.3 L430.2,317.8 L428.6,318.2 L427.3,318.6 L425.9,319.0 L424.5,319.5 L423.1,320.0 L421.6,320.6 L420.2,321.1 L418.7,321.6 L417.2,322.1 L415.8,322.5 L414.4,322.9 L412.9,323.3 L411.5,323.7 L410.1,324.1 L408.6,324.5 L407.2,324.8 L405.8,325.1 L404.3,325.4 L402.9,325.6 L401.5,325.8 L400.0,325.9 L398.6,326.0 L397.1,326.1 L395.7,326.2 L394.2,326.2 L392.8,326.2 L391.4,326.1 L390.0,326.1 L388.4,326.0 L386.8,325.9 L385.1,325.8 L383.5,325.6 L381.9,325.4 L380.4,325.2 L379.0,325.0 L377.8,324.7 L375.9,324.2 L374.5,323.6 L373.3,322.8 L372.0,321.8 L371.1,320.9 L370.2,320.0 L369.3,318.9 L368.3,317.8 L367.4,316.5 L366.3,315.0 L365.5,314.0 L364.8,312.9 L364.0,311.7 L363.1,310.5 L362.3,309.3 L361.4,307.9 L360.5,306.5 L359.6,305.1 L358.6,303.5 L357.9,302.4 L357.2,301.2 L356.5,299.9 L355.8,298.6 L355.0,297.3 L354.3,296.0 L353.5,294.6 L352.7,293.2 L351.9,291.8 L351.2,290.4 L350.4,288.9 L349.6,287.5 L348.9,286.1 L348.2,284.8 L347.5,283.4 L346.8,282.0 L346.2,280.6 L345.5,279.2 L344.8,277.8 L344.1,276.4 L343.4,275.0 L342.7,273.5 L342.0,272.2 L341.4,270.8 L340.7,269.4 L340.0,268.1 L339.3,266.8 L338.6,265.4 L337.8,264.1 L337.1,262.8 L336.3,261.4 L335.6,260.1 L334.8,258.9 L334.1,257.6 L333.3,256.3 L332.6,255.1 L331.8,253.9 L331.1,252.8 L330.3,251.6 L329.6,250.5 L328.6,249.1 L327.6,247.7 L326.6,246.4 L325.7,245.1 L324.7,243.8 L323.7,242.6 L322.7,241.4 L321.8,240.3 L320.9,239.2 L320.0,238.1 L319.0,236.9 L318.1,235.7 L317.2,234.7 L316.4,233.7 L315.5,232.7 L314.6,231.7 L313.6,230.6 L312.4,229.5 L311.5,228.6 L310.5,227.7 L309.4,226.7 L308.3,225.7 L307.2,224.7 L306.0,223.7 L304.9,222.8 L303.7,221.8 L302.6,220.9 L301.4,220.1 L300.3,219.3 L299.0,218.5 L297.6,217.7 L296.3,217.0 L295.0,216.4 L293.6,215.8 L292.3,215.2 L291.0,214.6 L289.6,214.0 L288.3,213.4 L287.0,212.7 L285.6,212.1 L284.3,211.4 L282.9,210.7 L281.6,210.1 L280.2,209.4 L278.9,208.8 L277.5,208.2 L276.2,207.6 L274.9,207.1 L273.5,206.5 L272.2,206.0 L270.8,205.6 L269.5,205.1 L268.1,204.7 L266.8,204.2 L265.4,203.8 L264.1,203.4 L262.6,203.0 L261.1,202.5 L259.6,202.2 L258.1,201.8 L256.6,201.4 L255.1,201.1 L253.6,200.7 L252.1,200.4 L250.6,200.1 L249.0,199.8 L247.4,199.5 L245.8,199.2 L244.2,198.9 L242.7,198.6 L241.3,198.4 L240.0,198.2 L238.0,197.9 L236.1,197.7 L234.4,197.5 L233.0,197.4 L232.0,197.3Z" fill="url(#vr)"/>
<path d="M232.0,196.8 L233.0,196.8 L234.4,196.8 L236.1,196.8 L238.0,196.9 L240.0,197.0 L241.3,197.1 L242.7,197.3 L244.2,197.4 L245.8,197.6 L247.4,197.8 L249.0,198.0 L250.6,198.3 L252.1,198.5 L253.6,198.8 L255.1,199.0 L256.6,199.3 L258.1,199.6 L259.6,199.9 L261.1,200.2 L262.6,200.6 L264.1,200.9 L265.6,201.3 L267.1,201.6 L268.6,202.0 L270.1,202.4 L271.7,202.8 L273.2,203.2 L274.7,203.6 L276.2,204.1 L277.5,204.5 L278.9,205.0 L280.2,205.4 L281.6,205.9 L282.9,206.4 L284.3,206.9 L285.6,207.5 L287.0,208.1 L288.3,208.7 L289.6,209.4 L291.0,210.0 L292.3,210.8 L293.6,211.5 L295.0,212.3 L296.3,213.1 L297.6,213.9 L299.0,214.7 L300.3,215.6 L301.5,216.4 L302.8,217.2 L304.1,218.1 L305.3,219.0 L306.6,219.9 L307.9,220.8 L309.1,221.7 L310.3,222.6 L311.4,223.4 L312.4,224.2 L313.7,225.2 L314.8,226.1 L315.9,226.9 L316.8,227.7 L317.8,228.5 L318.8,229.5 L320.0,230.6 L320.9,231.5 L321.8,232.5 L322.7,233.5 L323.7,234.6 L324.7,235.7 L325.7,236.8 L326.6,238.0 L327.6,239.2 L328.6,240.3 L329.6,241.5 L330.6,242.7 L331.5,243.9 L332.5,245.1 L333.5,246.3 L334.5,247.5 L335.4,248.8 L336.4,250.1 L337.4,251.3 L338.3,252.6 L339.3,253.9 L340.2,255.1 L341.1,256.3 L341.9,257.5 L342.8,258.7 L343.7,260.0 L344.5,261.2 L345.4,262.4 L346.3,263.7 L347.1,264.9 L348.0,266.2 L348.9,267.4 L349.8,268.6 L350.7,269.9 L351.5,271.1 L352.4,272.4 L353.3,273.6 L354.2,274.9 L355.1,276.1 L356.0,277.4 L356.8,278.6 L357.7,279.7 L358.6,280.9 L359.6,282.2 L360.5,283.4 L361.5,284.7 L362.4,285.9 L363.4,287.1 L364.4,288.3 L365.3,289.4 L366.3,290.5 L367.2,291.5 L368.2,292.5 L369.4,293.6 L370.6,294.6 L371.8,295.5 L373.0,296.4 L374.2,297.2 L375.4,297.9 L376.6,298.6 L377.8,299.2 L379.1,299.9 L380.4,300.4 L381.7,300.9 L382.9,301.3 L384.3,301.7 L385.8,302.1 L387.5,302.5 L388.8,302.8 L390.1,303.1 L391.4,303.3 L392.8,303.6 L394.2,303.9 L395.7,304.1 L397.3,304.4 L399.1,304.6 L400.9,304.8 L402.9,305.0 L404.2,305.1 L405.5,305.2 L407.0,305.3 L408.5,305.4 L410.1,305.5 L411.8,305.6 L413.5,305.7 L415.2,305.8 L416.8,305.9 L418.5,305.9 L420.2,306.0 L421.8,306.1 L423.3,306.1 L424.8,306.2 L426.2,306.2 L427.4,306.3 L428.6,306.3 L430.6,306.4 L432.2,306.4 L433.4,306.4 L434.4,306.5 L435.4,306.4 L436.6,306.4 L438.1,306.3 L440.0,306.1 L441.1,306.0 L442.4,305.9 L443.7,305.7 L445.1,305.5 L446.5,305.4 L448.0,305.2 L449.6,305.0 L451.1,304.8 L452.7,304.6 L454.3,304.3 L455.9,304.1 L457.6,303.9 L459.2,303.8 L460.7,303.6 L462.3,303.4 L463.8,303.3 L465.3,303.2 L466.8,303.1 L468.3,302.9 L469.8,302.8 L471.2,302.7 L472.7,302.6 L474.2,302.5 L475.7,302.4 L477.2,302.4 L478.7,302.3 L480.2,302.2 L481.7,302.2 L483.1,302.1 L484.6,302.1 L486.1,302.1 L487.6,302.0 L489.1,302.1 L490.7,302.1 L492.3,302.2 L493.9,302.3 L495.6,302.3 L497.2,302.5 L498.9,302.5 L500.5,302.6 L502.1,302.7 L503.6,302.8 L505.1,302.9 L506.5,303.0 L507.9,303.0 L509.1,303.2 L510.3,303.1 L511.3,303.3 L513.8,303.4 L515.3,303.5 L516.2,303.6 L517.2,303.6 L518.5,303.3 L519.8,302.9 L521.1,302.4 L522.5,301.8 L524.0,301.2 L525.4,300.6 L526.7,300.1 L528.0,299.7 L529.5,299.3 L530.9,299.0 L532.2,299.0 L533.6,299.0 L535.1,299.0 L536.5,299.1 L537.9,299.3 L539.4,299.5 L541.0,299.8 L542.7,300.1 L544.6,300.9 L545.8,301.3 L547.2,301.9 L548.5,302.5 L550.0,303.0 L551.5,303.7 L552.9,304.3 L554.5,304.8 L556.0,305.3 L557.4,305.8 L558.9,306.0 L560.3,306.1 L561.7,306.3 L563.0,306.5 L564.4,306.3 L565.8,306.3 L567.1,306.0 L568.6,306.1 L570.0,305.8 L571.6,305.9 L573.2,305.4 L574.5,305.7 L575.9,305.7 L577.4,305.3 L578.9,305.3 L580.4,305.2 L581.9,305.2 L583.5,305.1 L585.0,305.3 L586.5,305.1 L588.0,305.0 L589.5,305.1 L590.9,305.2 L592.2,305.0 L593.9,304.9 L595.5,304.8 L597.1,304.9 L598.6,304.3 L600.1,303.9 L601.5,304.1 L602.9,303.9 L604.2,304.2 L605.4,303.8 L606.5,304.0 L608.3,304.1 L609.7,304.1 L610.9,304.6 L612.1,305.5 L613.6,305.8 L614.8,306.8 L616.2,307.4 L617.6,308.3 L619.0,309.3 L620.5,310.4 L621.8,311.0 L623.1,311.4 L624.7,311.9 L626.2,311.6 L627.6,312.1 L629.0,311.5 L630.5,311.7 L632.0,311.9 L633.6,312.0 L635.2,312.0 L636.8,312.5 L638.4,312.4 L639.7,312.4 L641.0,313.5 L642.4,313.4 L643.7,314.2 L645.0,315.5 L646.3,316.3 L647.6,316.5 L648.8,317.6 L650.1,318.6 L651.4,319.3 L652.7,320.4 L654.2,321.2 L655.6,321.4 L657.1,322.3 L658.7,323.0 L660.2,323.2 L661.8,323.5 L663.3,324.7 L664.7,325.0 L666.0,326.0 L667.1,325.9 L668.2,327.6 L669.3,328.0 L670.3,329.5 L671.4,330.7 L672.6,331.4 L673.6,332.3 L674.6,333.6 L675.7,335.1 L676.7,335.6 L677.8,337.5 L678.9,338.9 L679.9,339.7 L680.9,340.5 L681.8,340.6 L683.6,341.0 L685.1,340.6 L686.6,339.6 L688.3,339.4 L689.4,340.5 L690.5,340.8 L691.6,342.4 L692.7,343.8 L693.9,345.0 L695.1,346.5 L696.2,347.5 L697.3,348.4 L698.4,349.5 L699.4,350.1 L700.5,351.5 L701.7,352.4 L702.8,353.2 L704.1,354.1 L705.5,355.0 L706.9,354.9 L708.4,356.1 L710.0,356.1 L711.5,356.9 L713.1,357.4 L714.6,358.1 L715.9,358.5 L717.3,359.3 L718.7,360.3 L720.0,360.1 L721.4,361.2 L722.7,362.3 L723.9,363.3 L725.1,363.7 L726.8,363.7 L728.4,364.4 L730.0,364.6 L731.5,364.9 L733.0,364.5 L734.6,365.0 L736.3,365.1 L737.9,364.4 L739.5,364.6 L740.9,365.0 L742.3,365.3 L743.3,365.7 L744.5,364.6 L746.1,365.5 L747.2,365.3 L748.4,364.9 L749.7,364.3 L751.1,364.0 L752.5,363.6 L753.9,362.3 L755.3,362.5 L756.7,360.7 L758.2,360.2 L759.7,360.3 L761.2,360.3 L762.7,360.0 L764.2,358.9 L765.7,358.7 L767.2,358.1 L768.5,358.3 L769.8,357.2 L771.0,357.3 L772.3,356.3 L773.6,355.9 L774.9,354.6 L776.3,355.0 L777.7,354.2 L779.0,353.9 L780.4,353.7 L781.9,352.8 L783.3,352.7 L784.8,351.7 L786.3,351.0 L787.8,350.6 L789.3,349.9 L790.8,349.9 L792.3,349.5 L793.8,348.5 L795.3,348.4 L796.8,347.9 L798.3,347.2 L799.8,346.8 L801.2,346.6 L802.7,345.8 L804.0,345.1 L805.6,344.0 L807.2,343.1 L808.7,344.1 L810.1,342.7 L811.6,342.3 L813.0,342.7 L814.5,341.4 L816.0,341.9 L817.4,340.8 L818.7,340.1 L820.2,340.4 L821.7,339.7 L823.2,338.6 L825.0,338.6 L826.3,337.7 L827.7,338.3 L829.2,337.4 L830.9,337.3 L832.5,336.7 L834.1,335.5 L835.7,335.7 L837.1,335.9 L838.4,335.6 L839.5,334.4 L840.3,334.8 L840.3,338.4 L839.5,339.4 L838.4,339.7 L837.1,340.1 L835.7,340.7 L834.1,341.4 L832.5,340.7 L830.9,341.5 L829.2,342.0 L827.7,343.1 L826.3,342.5 L825.0,343.7 L823.2,344.3 L821.7,344.4 L820.2,345.2 L818.7,345.0 L817.4,346.3 L816.0,347.3 L814.5,346.9 L813.2,348.6 L811.9,348.0 L810.7,349.0 L809.4,350.2 L808.1,349.5 L806.8,349.6 L805.4,350.2 L804.0,351.4 L802.7,352.3 L801.2,352.6 L799.8,353.0 L798.3,353.2 L796.8,354.7 L795.3,354.2 L793.8,354.5 L792.3,354.7 L790.8,355.8 L789.3,356.4 L787.8,356.6 L786.3,357.1 L784.8,357.9 L783.3,359.4 L781.9,359.0 L780.4,360.1 L779.0,360.2 L777.7,361.4 L776.3,361.7 L774.9,362.4 L773.6,362.1 L772.3,363.1 L771.0,364.3 L769.8,364.6 L768.5,365.4 L767.2,366.6 L765.7,365.8 L764.2,368.1 L762.7,368.4 L761.2,368.8 L759.7,368.9 L758.2,369.3 L756.7,370.2 L755.3,371.0 L753.9,371.8 L752.5,371.8 L751.1,372.5 L749.7,374.1 L748.4,373.4 L747.2,374.0 L746.1,374.1 L744.5,374.4 L743.3,372.5 L742.3,370.1 L740.9,369.1 L739.5,369.6 L737.9,369.7 L736.3,370.2 L734.6,372.2 L733.0,371.5 L731.5,371.5 L730.0,371.8 L728.4,371.8 L726.8,372.2 L725.1,371.6 L723.7,370.9 L722.3,370.5 L720.8,370.1 L719.2,369.6 L717.7,368.6 L716.1,368.6 L714.6,367.3 L713.3,366.8 L711.9,366.0 L710.5,365.8 L709.2,364.2 L707.8,363.6 L706.5,363.1 L705.3,362.9 L704.1,361.9 L702.6,361.2 L701.3,361.2 L700.0,361.0 L698.7,360.4 L697.5,360.2 L696.2,360.4 L695.2,358.4 L694.2,357.2 L693.2,356.0 L692.2,355.1 L691.2,353.3 L690.2,353.1 L689.2,351.0 L688.3,350.3 L687.0,350.5 L685.7,349.1 L684.5,348.4 L683.3,347.9 L681.8,347.4 L680.8,346.7 L679.7,346.6 L678.5,345.6 L677.3,344.3 L676.1,344.2 L674.9,342.9 L673.7,341.8 L672.6,340.8 L671.2,339.9 L670.0,339.2 L668.7,338.6 L667.5,337.3 L666.2,336.7 L664.7,335.9 L663.5,335.7 L662.2,334.2 L660.8,333.9 L659.5,333.2 L658.1,332.2 L656.7,331.5 L655.4,331.8 L654.2,330.3 L652.7,330.0 L651.4,329.4 L650.1,329.3 L648.8,329.1 L647.6,328.6 L646.3,328.1 L645.0,327.3 L643.7,326.4 L642.4,325.4 L641.0,325.0 L639.7,324.8 L638.4,323.7 L636.9,323.6 L635.4,323.3 L634.0,322.9 L632.3,323.2 L630.5,323.5 L629.2,323.2 L627.8,322.8 L626.3,322.7 L624.7,322.8 L623.1,322.8 L621.5,322.3 L619.9,322.3 L618.4,321.8 L616.9,321.7 L615.4,321.5 L613.9,322.0 L612.4,321.3 L611.0,321.6 L609.5,321.1 L608.0,321.1 L606.5,321.0 L605.0,320.4 L603.5,319.9 L602.0,319.9 L600.5,319.5 L599.1,319.0 L597.6,318.9 L596.1,318.2 L594.6,317.7 L593.1,317.1 L591.7,317.1 L590.2,316.4 L588.8,316.1 L587.3,315.8 L585.8,315.2 L584.3,314.9 L582.7,314.6 L581.4,314.7 L580.0,314.7 L578.5,314.5 L577.0,314.5 L575.5,314.7 L574.1,314.7 L572.6,314.9 L571.1,314.9 L569.7,315.2 L568.4,315.3 L566.8,315.8 L565.2,315.7 L563.7,316.2 L562.1,316.4 L560.7,316.8 L559.2,317.2 L557.9,316.9 L556.5,317.0 L554.8,317.3 L553.2,317.2 L551.8,316.9 L550.3,317.1 L548.7,316.5 L547.0,316.4 L545.6,316.1 L544.2,316.0 L542.7,315.5 L541.2,315.2 L539.7,314.8 L538.1,314.6 L536.6,314.3 L535.1,314.0 L533.6,313.7 L532.1,313.4 L530.6,313.2 L529.2,313.1 L527.7,312.8 L526.2,312.7 L524.7,312.7 L523.2,312.9 L521.7,313.1 L520.2,313.5 L518.7,314.1 L517.2,314.8 L515.8,315.7 L514.3,316.1 L512.8,316.8 L511.3,317.2 L509.8,317.4 L508.3,317.7 L506.9,318.0 L505.4,318.0 L503.9,318.2 L502.5,318.2 L501.0,318.3 L499.5,318.3 L498.0,318.4 L496.5,318.2 L495.0,318.1 L493.6,317.9 L492.1,317.7 L490.6,317.6 L489.1,317.6 L487.6,317.6 L486.1,317.7 L484.6,318.0 L483.1,318.3 L481.7,318.6 L480.2,319.0 L478.7,319.3 L477.2,319.7 L475.7,319.9 L474.2,320.1 L472.7,320.3 L471.2,320.5 L469.8,320.7 L468.3,320.9 L466.8,321.0 L465.3,321.1 L463.8,321.1 L462.3,321.1 L460.9,321.0 L459.4,320.8 L457.9,320.7 L456.4,320.5 L455.0,320.3 L453.4,320.1 L451.9,319.9 L450.5,319.7 L449.0,319.6 L447.5,319.3 L446.0,319.1 L444.6,319.0 L443.1,318.8 L441.6,318.7 L440.2,318.6 L438.9,318.6 L437.3,318.7 L435.8,318.9 L434.4,319.1 L433.0,319.5 L431.6,319.8 L430.2,320.3 L428.6,320.7 L427.3,321.1 L425.9,321.5 L424.5,322.0 L423.1,322.5 L421.6,323.1 L420.2,323.6 L418.7,324.1 L417.2,324.6 L415.8,325.0 L414.4,325.4 L412.9,325.8 L411.5,326.2 L410.1,326.6 L408.6,327.0 L407.2,327.3 L405.8,327.6 L404.3,327.9 L402.9,328.1 L401.5,328.3 L400.0,328.4 L398.6,328.5 L397.1,328.6 L395.7,328.7 L394.2,328.7 L392.8,328.7 L391.4,328.6 L390.0,328.6 L388.4,328.5 L386.8,328.4 L385.1,328.3 L383.5,328.1 L381.9,327.9 L380.4,327.7 L379.0,327.5 L377.8,327.2 L375.9,326.7 L374.5,326.1 L373.3,325.3 L372.0,324.3 L371.1,323.4 L370.2,322.5 L369.3,321.4 L368.3,320.3 L367.4,319.0 L366.3,317.5 L365.5,316.5 L364.8,315.4 L364.0,314.2 L363.1,313.0 L362.3,311.8 L361.4,310.4 L360.5,309.0 L359.6,307.6 L358.6,306.0 L357.9,304.9 L357.2,303.7 L356.5,302.4 L355.8,301.1 L355.0,299.8 L354.3,298.5 L353.5,297.1 L352.7,295.7 L351.9,294.3 L351.2,292.9 L350.4,291.4 L349.6,290.0 L348.9,288.6 L348.2,287.3 L347.5,285.9 L346.8,284.5 L346.2,283.1 L345.5,281.7 L344.8,280.3 L344.1,278.9 L343.4,277.5 L342.7,276.0 L342.0,274.7 L341.4,273.3 L340.7,271.9 L340.0,270.6 L339.3,269.3 L338.6,267.9 L337.8,266.6 L337.1,265.3 L336.3,263.9 L335.6,262.6 L334.8,261.4 L334.1,260.1 L333.3,258.8 L332.6,257.6 L331.8,256.4 L331.1,255.3 L330.3,254.1 L329.6,253.0 L328.6,251.6 L327.6,250.2 L326.6,248.9 L325.7,247.6 L324.7,246.3 L323.7,245.1 L322.7,243.9 L321.8,242.8 L320.9,241.7 L320.0,240.6 L319.0,239.4 L318.1,238.2 L317.2,237.2 L316.4,236.2 L315.5,235.2 L314.6,234.2 L313.6,233.1 L312.4,232.0 L311.5,231.1 L310.5,230.2 L309.4,229.3 L308.3,228.3 L307.2,227.4 L306.0,226.4 L304.9,225.4 L303.7,224.5 L302.6,223.5 L301.4,222.7 L300.3,221.8 L299.1,220.9 L297.9,220.0 L296.7,219.1 L295.5,218.3 L294.3,217.5 L293.1,216.7 L291.9,215.9 L290.7,215.1 L289.5,214.4 L288.3,213.7 L287.0,212.9 L285.6,212.2 L284.3,211.5 L282.9,210.9 L281.6,210.2 L280.2,209.6 L278.9,209.0 L277.5,208.5 L276.2,207.9 L274.9,207.4 L273.5,206.8 L272.2,206.3 L270.8,205.9 L269.5,205.4 L268.1,205.0 L266.8,204.5 L265.4,204.1 L264.1,203.7 L262.6,203.3 L261.1,202.8 L259.6,202.5 L258.1,202.1 L256.6,201.7 L255.1,201.4 L253.6,201.0 L252.1,200.7 L250.6,200.4 L249.0,200.1 L247.4,199.8 L245.8,199.5 L244.2,199.2 L242.7,198.9 L241.3,198.7 L240.0,198.5 L238.0,198.2 L236.1,198.0 L234.4,197.8 L233.0,197.7 L232.0,197.6Z" fill="#0000ff" stroke="#0000ff" stroke-width="0.4"/>
<path d="M232.0,197.6 L233.0,197.7 L234.4,197.8 L236.1,198.0 L238.0,198.2 L240.0,198.5 L241.3,198.7 L242.7,198.9 L244.2,199.2 L245.8,199.5 L247.4,199.8 L249.0,200.1 L250.6,200.4 L252.1,200.7 L253.6,201.0 L255.1,201.4 L256.6,201.7 L258.1,202.1 L259.6,202.5 L261.1,202.8 L262.6,203.3 L264.1,203.7 L265.4,204.1 L266.8,204.5 L268.1,205.0 L269.5,205.4 L270.8,205.9 L272.2,206.3 L273.5,206.8 L274.9,207.4 L276.2,207.9 L277.5,208.5 L278.9,209.0 L280.2,209.6 L281.6,210.2 L282.9,210.9 L284.3,211.5 L285.6,212.2 L287.0,212.9 L288.3,213.7 L289.5,214.4 L290.7,215.1 L291.9,215.9 L293.1,216.7 L294.3,217.5 L295.5,218.3 L296.7,219.1 L297.9,220.0 L299.1,220.9 L300.3,221.8 L301.4,222.7 L302.6,223.5 L303.7,224.5 L304.9,225.4 L306.0,226.4 L307.2,227.4 L308.3,228.3 L309.4,229.3 L310.5,230.2 L311.5,231.1 L312.4,232.0 L313.6,233.1 L314.6,234.2 L315.5,235.2 L316.4,236.2 L317.2,237.2 L318.1,238.2 L319.0,239.4 L320.0,240.6 L320.9,241.7 L321.8,242.8 L322.7,243.9 L323.7,245.1 L324.7,246.3 L325.7,247.6 L326.6,248.9 L327.6,250.2 L328.6,251.6 L329.6,253.0 L330.3,254.1 L331.1,255.3 L331.8,256.4 L332.6,257.6 L333.3,258.8 L334.1,260.1 L334.8,261.4 L335.6,262.6 L336.3,263.9 L337.1,265.3 L337.8,266.6 L338.6,267.9 L339.3,269.3 L340.0,270.6 L340.7,271.9 L341.4,273.3 L342.0,274.7 L342.7,276.0 L343.4,277.5 L344.1,278.9 L344.8,280.3 L345.5,281.7 L346.2,283.1 L346.8,284.5 L347.5,285.9 L348.2,287.3 L348.9,288.6 L349.6,290.0 L350.4,291.4 L351.2,292.9 L351.9,294.3 L352.7,295.7 L353.5,297.1 L354.3,298.5 L355.0,299.8 L355.8,301.1 L356.5,302.4 L357.2,303.7 L357.9,304.9 L358.6,306.0 L359.6,307.6 L360.5,309.0 L361.4,310.4 L362.3,311.8 L363.1,313.0 L364.0,314.2 L364.8,315.4 L365.5,316.5 L366.3,317.5 L367.4,319.0 L368.3,320.3 L369.3,321.4 L370.2,322.5 L371.1,323.4 L372.0,324.3 L373.3,325.3 L374.5,326.1 L375.9,326.7 L377.8,327.2 L379.0,327.5 L380.4,327.7 L381.9,327.9 L383.5,328.1 L385.1,328.3 L386.8,328.4 L388.4,328.5 L390.0,328.6 L391.4,328.6 L392.8,328.7 L394.2,328.7 L395.7,328.7 L397.1,328.6 L398.6,328.5 L400.0,328.4 L401.5,328.3 L402.9,328.1 L404.3,327.9 L405.8,327.6 L407.2,327.3 L408.6,327.0 L410.1,326.6 L411.5,326.2 L412.9,325.8 L414.4,325.4 L415.8,325.0 L417.2,324.6 L418.7,324.1 L420.2,323.6 L421.6,323.1 L423.1,322.5 L424.5,322.0 L425.9,321.5 L427.3,321.1 L428.6,320.7 L430.2,320.3 L431.6,319.8 L433.0,319.5 L434.4,319.1 L435.8,318.9 L437.3,318.7 L438.9,318.6 L440.2,318.6 L441.6,318.7 L443.1,318.8 L444.6,319.0 L446.0,319.1 L447.5,319.3 L449.0,319.6 L450.5,319.7 L451.9,319.9 L453.4,320.1 L455.0,320.3 L456.4,320.5 L457.9,320.7 L459.4,320.8 L460.9,321.0 L462.3,321.1 L463.8,321.1 L465.3,321.1 L466.8,321.0 L468.3,320.9 L469.8,320.7 L471.2,320.5 L472.7,320.3 L474.2,320.1 L475.7,319.9 L477.2,319.7 L478.7,319.3 L480.2,319.0 L481.7,318.6 L483.1,318.3 L484.6,318.0 L486.1,317.7 L487.6,317.6 L489.1,317.6 L490.6,317.6 L492.1,317.7 L493.6,317.9 L495.0,318.1 L496.5,318.2 L498.0,318.4 L499.5,318.3 L501.0,318.3 L502.5,318.2 L503.9,318.2 L505.4,318.0 L506.9,318.0 L508.3,317.7 L509.8,317.4 L511.3,317.2 L512.8,316.8 L514.3,316.1 L515.8,315.7 L517.2,314.8 L518.7,314.1 L520.2,313.5 L521.7,313.1 L523.2,312.9 L524.7,312.7 L526.2,312.7 L527.7,312.8 L529.2,313.1 L530.6,313.2 L532.1,313.4 L533.6,313.7 L535.1,314.0 L536.6,314.3 L538.1,314.6 L539.7,314.8 L541.2,315.2 L542.7,315.5 L544.2,316.0 L545.6,316.1 L547.0,316.4 L548.7,316.5 L550.3,317.1 L551.8,316.9 L553.2,317.2 L554.8,317.3 L556.5,317.0 L557.9,316.9 L559.2,317.2 L560.7,316.8 L562.1,316.4 L563.7,316.2 L565.2,315.7 L566.8,315.8 L568.4,315.3 L569.7,315.2 L571.1,314.9 L572.6,314.9 L574.1,314.7 L575.5,314.7 L577.0,314.5 L578.5,314.5 L580.0,314.7 L581.4,314.7 L582.7,314.6 L584.3,314.9 L585.8,315.2 L587.3,315.8 L588.8,316.1 L590.2,316.4 L591.7,317.1 L593.1,317.1 L594.6,317.7 L596.1,318.2 L597.6,318.9 L599.1,319.0 L600.5,319.5 L602.0,319.9 L603.5,319.9 L605.0,320.4 L606.5,321.0 L608.0,321.1 L609.5,321.1 L611.0,321.6 L612.4,321.3 L613.9,322.0 L615.4,321.5 L616.9,321.7 L618.4,321.8 L619.9,322.3 L621.5,322.3 L623.1,322.8 L624.7,322.8 L626.3,322.7 L627.8,322.8 L629.2,323.2 L630.5,323.5 L632.3,323.2 L634.0,322.9 L635.4,323.3 L636.9,323.6 L638.4,323.7 L639.7,324.8 L641.0,325.0 L642.4,325.4 L643.7,326.4 L645.0,327.3 L646.3,328.1 L647.6,328.6 L648.8,329.1 L650.1,329.3 L651.4,329.4 L652.7,330.0 L654.2,330.3 L655.4,331.8 L656.7,331.5 L658.1,332.2 L659.5,333.2 L660.8,333.9 L662.2,334.2 L663.5,335.7 L664.7,335.9 L666.2,336.7 L667.5,337.3 L668.7,338.6 L670.0,339.2 L671.2,339.9 L672.6,340.8 L673.7,341.8 L674.9,342.9 L676.1,344.2 L677.3,344.3 L678.5,345.6 L679.7,346.6 L680.8,346.7 L681.8,347.4 L683.3,347.9 L684.5,348.4 L685.7,349.1 L687.0,350.5 L688.3,350.3 L689.2,351.0 L690.2,353.1 L691.2,353.3 L692.2,355.1 L693.2,356.0 L694.2,357.2 L695.2,358.4 L696.2,360.4 L697.5,360.2 L698.7,360.4 L700.0,361.0 L701.3,361.2 L702.6,361.2 L704.1,361.9 L705.3,362.9 L706.5,363.1 L707.8,363.6 L709.2,364.2 L710.5,365.8 L711.9,366.0 L713.3,366.8 L714.6,367.3 L716.1,368.6 L717.7,368.6 L719.2,369.6 L720.8,370.1 L722.3,370.5 L723.7,370.9 L725.1,371.6 L726.8,372.2 L728.4,371.8 L730.0,371.8 L731.5,371.5 L733.0,371.5 L734.6,372.2 L736.3,370.2 L737.9,369.7 L739.5,369.6 L740.9,369.1 L742.3,370.1 L743.3,372.5 L744.5,374.4 L746.1,374.1 L747.2,374.0 L748.4,373.4 L749.7,374.1 L751.1,372.5 L752.5,371.8 L753.9,371.8 L755.3,371.0 L756.7,370.2 L758.2,369.3 L759.7,368.9 L761.2,368.8 L762.7,368.4 L764.2,368.1 L765.7,365.8 L767.2,366.6 L768.5,365.4 L769.8,364.6 L771.0,364.3 L772.3,363.1 L773.6,362.1 L774.9,362.4 L776.3,361.7 L777.7,361.4 L779.0,360.2 L780.4,360.1 L781.9,359.0 L783.3,359.4 L784.8,357.9 L786.3,357.1 L787.8,356.6 L789.3,356.4 L790.8,355.8 L792.3,354.7 L793.8,354.5 L795.3,354.2 L796.8,354.7 L798.3,353.2 L799.8,353.0 L801.2,352.6 L802.7,352.3 L804.0,351.4 L805.4,350.2 L806.8,349.6 L808.1,349.5 L809.4,350.2 L810.7,349.0 L811.9,348.0 L813.2,348.6 L814.5,346.9 L816.0,347.3 L817.4,346.3 L818.7,345.0 L820.2,345.2 L821.7,344.4 L823.2,344.3 L825.0,343.7 L826.3,342.5 L827.7,343.1 L829.2,342.0 L830.9,341.5 L832.5,340.7 L834.1,341.4 L835.7,340.7 L837.1,340.1 L838.4,339.7 L839.5,339.4 L840.3,338.4" fill="none" stroke="#0000ff" stroke-width="1.5" stroke-dasharray="1.3 1.4" stroke-linejoin="round"/>
<path d="M232.0,196.8 L233.0,196.8 L234.4,196.8 L236.1,196.8 L238.0,196.9 L240.0,197.0 L241.3,197.1 L242.7,197.3 L244.2,197.4 L245.8,197.6 L247.4,197.8 L249.0,198.0 L250.6,198.3 L252.1,198.5 L253.6,198.8 L255.1,199.0 L256.6,199.3 L258.1,199.6 L259.6,199.9 L261.1,200.2 L262.6,200.6 L264.1,200.9 L265.6,201.3 L267.1,201.6 L268.6,202.0 L270.1,202.4 L271.7,202.8 L273.2,203.2 L274.7,203.6 L276.2,204.1 L277.5,204.5 L278.9,205.0 L280.2,205.4 L281.6,205.9 L282.9,206.4 L284.3,206.9 L285.6,207.5 L287.0,208.1 L288.3,208.7 L289.6,209.4 L291.0,210.0 L292.3,210.8 L293.6,211.5 L295.0,212.3 L296.3,213.1 L297.6,213.9 L299.0,214.7 L300.3,215.6 L301.5,216.4 L302.8,217.2 L304.1,218.1 L305.3,219.0 L306.6,219.9 L307.9,220.8 L309.1,221.7 L310.3,222.6 L311.4,223.4 L312.4,224.2 L313.7,225.2 L314.8,226.1 L315.9,226.9 L316.8,227.7 L317.8,228.5 L318.8,229.5 L320.0,230.6 L320.9,231.5 L321.8,232.5 L322.7,233.5 L323.7,234.6 L324.7,235.7 L325.7,236.8 L326.6,238.0 L327.6,239.2 L328.6,240.3 L329.6,241.5 L330.6,242.7 L331.5,243.9 L332.5,245.1 L333.5,246.3 L334.5,247.5 L335.4,248.8 L336.4,250.1 L337.4,251.3 L338.3,252.6 L339.3,253.9 L340.2,255.1 L341.1,256.3 L341.9,257.5 L342.8,258.7 L343.7,260.0 L344.5,261.2 L345.4,262.4 L346.3,263.7 L347.1,264.9 L348.0,266.2 L348.9,267.4 L349.8,268.6 L350.7,269.9 L351.5,271.1 L352.4,272.4 L353.3,273.6 L354.2,274.9 L355.1,276.1 L356.0,277.4 L356.8,278.6 L357.7,279.7 L358.6,280.9 L359.6,282.2 L360.5,283.4 L361.5,284.7 L362.4,285.9 L363.4,287.1 L364.4,288.3 L365.3,289.4 L366.3,290.5 L367.2,291.5 L368.2,292.5 L369.4,293.6 L370.6,294.6 L371.8,295.5 L373.0,296.4 L374.2,297.2 L375.4,297.9 L376.6,298.6 L377.8,299.2 L379.1,299.9 L380.4,300.4 L381.7,300.9 L382.9,301.3 L384.3,301.7 L385.8,302.1 L387.5,302.5 L388.8,302.8 L390.1,303.1 L391.4,303.3 L392.8,303.6 L394.2,303.9 L395.7,304.1 L397.3,304.4 L399.1,304.6 L400.9,304.8 L402.9,305.0 L404.2,305.1 L405.5,305.2 L407.0,305.3 L408.5,305.4 L410.1,305.5 L411.8,305.6 L413.5,305.7 L415.2,305.8 L416.8,305.9 L418.5,305.9 L420.2,306.0 L421.8,306.1 L423.3,306.1 L424.8,306.2 L426.2,306.2 L427.4,306.3 L428.6,306.3 L430.6,306.4 L432.2,306.4 L433.4,306.4 L434.4,306.5 L435.4,306.4 L436.6,306.4 L438.1,306.3 L440.0,306.1 L441.1,306.0 L442.4,305.9 L443.7,305.7 L445.1,305.5 L446.5,305.4 L448.0,305.2 L449.6,305.0 L451.1,304.8 L452.7,304.6 L454.3,304.3 L455.9,304.1 L457.6,303.9 L459.2,303.8 L460.7,303.6 L462.3,303.4 L463.8,303.3 L465.3,303.2 L466.8,303.1 L468.3,302.9 L469.8,302.8 L471.2,302.7 L472.7,302.6 L474.2,302.5 L475.7,302.4 L477.2,302.4 L478.7,302.3 L480.2,302.2 L481.7,302.2 L483.1,302.1 L484.6,302.1 L486.1,302.1 L487.6,302.0 L489.1,302.1 L490.7,302.1 L492.3,302.2 L493.9,302.3 L495.6,302.3 L497.2,302.5 L498.9,302.5 L500.5,302.6 L502.1,302.7 L503.6,302.8 L505.1,302.9 L506.5,303.0 L507.9,303.0 L509.1,303.2 L510.3,303.1 L511.3,303.3 L513.8,303.4 L515.3,303.5 L516.2,303.6 L517.2,303.6 L518.5,303.3 L519.8,302.9 L521.1,302.4 L522.5,301.8 L524.0,301.2 L525.4,300.6 L526.7,300.1 L528.0,299.7 L529.5,299.3 L530.9,299.0 L532.2,299.0 L533.6,299.0 L535.1,299.0 L536.5,299.1 L537.9,299.3 L539.4,299.5 L541.0,299.8 L542.7,300.1 L544.6,300.9 L545.8,301.3 L547.2,301.9 L548.5,302.5 L550.0,303.0 L551.5,303.7 L552.9,304.3 L554.5,304.8 L556.0,305.3 L557.4,305.8 L558.9,306.0 L560.3,306.1 L561.7,306.3 L563.0,306.5 L564.4,306.3 L565.8,306.3 L567.1,306.0 L568.6,306.1 L570.0,305.8 L571.6,305.9 L573.2,305.4 L574.5,305.7 L575.9,305.7 L577.4,305.3 L578.9,305.3 L580.4,305.2 L581.9,305.2 L583.5,305.1 L585.0,305.3 L586.5,305.1 L588.0,305.0 L589.5,305.1 L590.9,305.2 L592.2,305.0 L593.9,304.9 L595.5,304.8 L597.1,304.9 L598.6,304.3 L600.1,303.9 L601.5,304.1 L602.9,303.9 L604.2,304.2 L605.4,303.8 L606.5,304.0 L608.3,304.1 L609.7,304.1 L610.9,304.6 L612.1,305.5 L613.6,305.8 L614.8,306.8 L616.2,307.4 L617.6,308.3 L619.0,309.3 L620.5,310.4 L621.8,311.0 L623.1,311.4 L624.7,311.9 L626.2,311.6 L627.6,312.1 L629.0,311.5 L630.5,311.7 L632.0,311.9 L633.6,312.0 L635.2,312.0 L636.8,312.5 L638.4,312.4 L639.7,312.4 L641.0,313.5 L642.4,313.4 L643.7,314.2 L645.0,315.5 L646.3,316.3 L647.6,316.5 L648.8,317.6 L650.1,318.6 L651.4,319.3 L652.7,320.4 L654.2,321.2 L655.6,321.4 L657.1,322.3 L658.7,323.0 L660.2,323.2 L661.8,323.5 L663.3,324.7 L664.7,325.0 L666.0,326.0 L667.1,325.9 L668.2,327.6 L669.3,328.0 L670.3,329.5 L671.4,330.7 L672.6,331.4 L673.6,332.3 L674.6,333.6 L675.7,335.1 L676.7,335.6 L677.8,337.5 L678.9,338.9 L679.9,339.7 L680.9,340.5 L681.8,340.6 L683.6,341.0 L685.1,340.6 L686.6,339.6 L688.3,339.4 L689.4,340.5 L690.5,340.8 L691.6,342.4 L692.7,343.8 L693.9,345.0 L695.1,346.5 L696.2,347.5 L697.3,348.4 L698.4,349.5 L699.4,350.1 L700.5,351.5 L701.7,352.4 L702.8,353.2 L704.1,354.1 L705.5,355.0 L706.9,354.9 L708.4,356.1 L710.0,356.1 L711.5,356.9 L713.1,357.4 L714.6,358.1 L715.9,358.5 L717.3,359.3 L718.7,360.3 L720.0,360.1 L721.4,361.2 L722.7,362.3 L723.9,363.3 L725.1,363.7 L726.8,363.7 L728.4,364.4 L730.0,364.6 L731.5,364.9 L733.0,364.5 L734.6,365.0 L736.3,365.1 L737.9,364.4 L739.5,364.6 L740.9,365.0 L742.3,365.3 L743.3,365.7 L744.5,364.6 L746.1,365.5 L747.2,365.3 L748.4,364.9 L749.7,364.3 L751.1,364.0 L752.5,363.6 L753.9,362.3 L755.3,362.5 L756.7,360.7 L758.2,360.2 L759.7,360.3 L761.2,360.3 L762.7,360.0 L764.2,358.9 L765.7,358.7 L767.2,358.1 L768.5,358.3 L769.8,357.2 L771.0,357.3 L772.3,356.3 L773.6,355.9 L774.9,354.6 L776.3,355.0 L777.7,354.2 L779.0,353.9 L780.4,353.7 L781.9,352.8 L783.3,352.7 L784.8,351.7 L786.3,351.0 L787.8,350.6 L789.3,349.9 L790.8,349.9 L792.3,349.5 L793.8,348.5 L795.3,348.4 L796.8,347.9 L798.3,347.2 L799.8,346.8 L801.2,346.6 L802.7,345.8 L804.0,345.1 L805.6,344.0 L807.2,343.1 L808.7,344.1 L810.1,342.7 L811.6,342.3 L813.0,342.7 L814.5,341.4 L816.0,341.9 L817.4,340.8 L818.7,340.1 L820.2,340.4 L821.7,339.7 L823.2,338.6 L825.0,338.6 L826.3,337.7 L827.7,338.3 L829.2,337.4 L830.9,337.3 L832.5,336.7 L834.1,335.5 L835.7,335.7 L837.1,335.9 L838.4,335.6 L839.5,334.4 L840.3,334.8 L840.3,338.4 L839.5,339.4 L838.4,339.7 L837.1,340.1 L835.7,340.7 L834.1,341.4 L832.5,340.7 L830.9,341.5 L829.2,342.0 L827.7,343.1 L826.3,342.5 L825.0,343.7 L823.2,344.3 L821.7,344.4 L820.2,345.2 L818.7,345.0 L817.4,346.3 L816.0,347.3 L814.5,346.9 L813.2,348.6 L811.9,348.0 L810.7,349.0 L809.4,350.2 L808.1,349.5 L806.8,349.6 L805.4,350.2 L804.0,351.4 L802.7,352.3 L801.2,352.6 L799.8,353.0 L798.3,353.2 L796.8,354.7 L795.3,354.2 L793.8,354.5 L792.3,354.7 L790.8,355.8 L789.3,356.4 L787.8,356.6 L786.3,357.1 L784.8,357.9 L783.3,359.4 L781.9,359.0 L780.4,360.1 L779.0,360.2 L777.7,361.4 L776.3,361.7 L774.9,362.4 L773.6,362.1 L772.3,363.1 L771.0,364.3 L769.8,364.6 L768.5,365.4 L767.2,366.6 L765.7,365.8 L764.2,368.1 L762.7,368.4 L761.2,368.8 L759.7,368.9 L758.2,369.3 L756.7,370.2 L755.3,371.0 L753.9,371.8 L752.5,371.8 L751.1,372.5 L749.7,374.1 L748.4,373.4 L747.2,374.0 L746.1,374.1 L744.5,374.4 L743.3,372.5 L742.3,370.1 L740.9,369.1 L739.5,369.6 L737.9,369.7 L736.3,370.2 L734.6,372.2 L733.0,371.5 L731.5,371.5 L730.0,371.8 L728.4,371.8 L726.8,372.2 L725.1,371.6 L723.7,370.9 L722.3,370.5 L720.8,370.1 L719.2,369.6 L717.7,368.6 L716.1,368.6 L714.6,367.3 L713.3,366.8 L711.9,366.0 L710.5,365.8 L709.2,364.2 L707.8,363.6 L706.5,363.1 L705.3,362.9 L704.1,361.9 L702.6,361.2 L701.3,361.2 L700.0,361.0 L698.7,360.4 L697.5,360.2 L696.2,360.4 L695.2,358.4 L694.2,357.2 L693.2,356.0 L692.2,355.1 L691.2,353.3 L690.2,353.1 L689.2,351.0 L688.3,350.3 L687.0,350.5 L685.7,349.1 L684.5,348.4 L683.3,347.9 L681.8,347.4 L680.8,346.7 L679.7,346.6 L678.5,345.6 L677.3,344.3 L676.1,344.2 L674.9,342.9 L673.7,341.8 L672.6,340.8 L671.2,339.9 L670.0,339.2 L668.7,338.6 L667.5,337.3 L666.2,336.7 L664.7,335.9 L663.5,335.7 L662.2,334.2 L660.8,333.9 L659.5,333.2 L658.1,332.2 L656.7,331.5 L655.4,331.8 L654.2,330.3 L652.7,330.0 L651.4,329.4 L650.1,329.3 L648.8,329.1 L647.6,328.6 L646.3,328.1 L645.0,327.3 L643.7,326.4 L642.4,325.4 L641.0,325.0 L639.7,324.8 L638.4,323.7 L636.9,323.6 L635.4,323.3 L634.0,322.9 L632.3,323.2 L630.5,323.5 L629.2,323.2 L627.8,322.8 L626.3,322.7 L624.7,322.8 L623.1,322.8 L621.5,322.3 L619.9,322.3 L618.4,321.8 L616.9,321.7 L615.4,321.5 L613.9,322.0 L612.4,321.3 L611.0,321.6 L609.5,321.1 L608.0,321.1 L606.5,321.0 L605.0,320.4 L603.5,319.9 L602.0,319.9 L600.5,319.5 L599.1,319.0 L597.6,318.9 L596.1,318.2 L594.6,317.7 L593.1,317.1 L591.7,317.1 L590.2,316.4 L588.8,316.1 L587.3,315.8 L585.8,315.2 L584.3,314.9 L582.7,314.6 L581.4,314.7 L580.0,314.7 L578.5,314.5 L577.0,314.5 L575.5,314.7 L574.1,314.7 L572.6,314.9 L571.1,314.9 L569.7,315.2 L568.4,315.3 L566.8,315.8 L565.2,315.7 L563.7,316.2 L562.1,316.4 L560.7,316.8 L559.2,317.2 L557.9,316.9 L556.5,317.0 L554.8,317.3 L553.2,317.2 L551.8,316.9 L550.3,317.1 L548.7,316.5 L547.0,316.4 L545.6,316.1 L544.2,316.0 L542.7,315.5 L541.2,315.2 L539.7,314.8 L538.1,314.6 L536.6,314.3 L535.1,314.0 L533.6,313.7 L532.1,313.4 L530.6,313.2 L529.2,313.1 L527.7,312.8 L526.2,312.7 L524.7,312.7 L523.2,312.9 L521.7,313.1 L520.2,313.5 L518.7,314.1 L517.2,314.8 L515.8,315.7 L514.3,316.1 L512.8,316.8 L511.3,317.2 L509.8,317.4 L508.3,317.7 L506.9,318.0 L505.4,318.0 L503.9,318.2 L502.5,318.2 L501.0,318.3 L499.5,318.3 L498.0,318.4 L496.5,318.2 L495.0,318.1 L493.6,317.9 L492.1,317.7 L490.6,317.6 L489.1,317.6 L487.6,317.6 L486.1,317.7 L484.6,318.0 L483.1,318.3 L481.7,318.6 L480.2,319.0 L478.7,319.3 L477.2,319.7 L475.7,319.9 L474.2,320.1 L472.7,320.3 L471.2,320.5 L469.8,320.7 L468.3,320.9 L466.8,321.0 L465.3,321.1 L463.8,321.1 L462.3,321.1 L460.9,321.0 L459.4,320.8 L457.9,320.7 L456.4,320.5 L455.0,320.3 L453.4,320.1 L451.9,319.9 L450.5,319.7 L449.0,319.6 L447.5,319.3 L446.0,319.1 L444.6,319.0 L443.1,318.8 L441.6,318.7 L440.2,318.6 L438.9,318.6 L437.3,318.7 L435.8,318.9 L434.4,319.1 L433.0,319.5 L431.6,319.8 L430.2,320.3 L428.6,320.7 L427.3,321.1 L425.9,321.5 L424.5,322.0 L423.1,322.5 L421.6,323.1 L420.2,323.6 L418.7,324.1 L417.2,324.6 L415.8,325.0 L414.4,325.4 L412.9,325.8 L411.5,326.2 L410.1,326.6 L408.6,327.0 L407.2,327.3 L405.8,327.6 L404.3,327.9 L402.9,328.1 L401.5,328.3 L400.0,328.4 L398.6,328.5 L397.1,328.6 L395.7,328.7 L394.2,328.7 L392.8,328.7 L391.4,328.6 L390.0,328.6 L388.4,328.5 L386.8,328.4 L385.1,328.3 L383.5,328.1 L381.9,327.9 L380.4,327.7 L379.0,327.5 L377.8,327.2 L375.9,326.7 L374.5,326.1 L373.3,325.3 L372.0,324.3 L371.1,323.4 L370.2,322.5 L369.3,321.4 L368.3,320.3 L367.4,319.0 L366.3,317.5 L365.5,316.5 L364.8,315.4 L364.0,314.2 L363.1,313.0 L362.3,311.8 L361.4,310.4 L360.5,309.0 L359.6,307.6 L358.6,306.0 L357.9,304.9 L357.2,303.7 L356.5,302.4 L355.8,301.1 L355.0,299.8 L354.3,298.5 L353.5,297.1 L352.7,295.7 L351.9,294.3 L351.2,292.9 L350.4,291.4 L349.6,290.0 L348.9,288.6 L348.2,287.3 L347.5,285.9 L346.8,284.5 L346.2,283.1 L345.5,281.7 L344.8,280.3 L344.1,278.9 L343.4,277.5 L342.7,276.0 L342.0,274.7 L341.4,273.3 L340.7,271.9 L340.0,270.6 L339.3,269.3 L338.6,267.9 L337.8,266.6 L337.1,265.3 L336.3,263.9 L335.6,262.6 L334.8,261.4 L334.1,260.1 L333.3,258.8 L332.6,257.6 L331.8,256.4 L331.1,255.3 L330.3,254.1 L329.6,253.0 L328.6,251.6 L327.6,250.2 L326.6,248.9 L325.7,247.6 L324.7,246.3 L323.7,245.1 L322.7,243.9 L321.8,242.8 L320.9,241.7 L320.0,240.6 L319.0,239.4 L318.1,238.2 L317.2,237.2 L316.4,236.2 L315.5,235.2 L314.6,234.2 L313.6,233.1 L312.4,232.0 L311.5,231.1 L310.5,230.2 L309.4,229.3 L308.3,228.3 L307.2,227.4 L306.0,226.4 L304.9,225.4 L303.7,224.5 L302.6,223.5 L301.4,222.7 L300.3,221.8 L299.1,220.9 L297.9,220.0 L296.7,219.1 L295.5,218.3 L294.3,217.5 L293.1,216.7 L291.9,215.9 L290.7,215.1 L289.5,214.4 L288.3,213.7 L287.0,212.9 L285.6,212.2 L284.3,211.5 L282.9,210.9 L281.6,210.2 L280.2,209.6 L278.9,209.0 L277.5,208.5 L276.2,207.9 L274.9,207.4 L273.5,206.8 L272.2,206.3 L270.8,205.9 L269.5,205.4 L268.1,205.0 L266.8,204.5 L265.4,204.1 L264.1,203.7 L262.6,203.3 L261.1,202.8 L259.6,202.5 L258.1,202.1 L256.6,201.7 L255.1,201.4 L253.6,201.0 L252.1,200.7 L250.6,200.4 L249.0,200.1 L247.4,199.8 L245.8,199.5 L244.2,199.2 L242.7,198.9 L241.3,198.7 L240.0,198.5 L238.0,198.2 L236.1,198.0 L234.4,197.8 L233.0,197.7 L232.0,197.6Z" fill="url(#vb)"/>
<path d="M113.6,213.7 C117.4,212.7 128.1,209.4 136.2,207.4 C144.3,205.4 153.6,203.2 162.3,201.7 C171.0,200.2 179.8,199.1 188.5,198.3 C197.2,197.5 208.1,197.3 214.6,197.0 C221.1,196.7 223.3,196.6 227.7,196.7 C232.1,196.8 236.8,197.1 240.8,197.6 C244.9,198.1 250.1,199.3 252.0,199.6" fill="none" stroke="#ff0000" stroke-width="1.9"/>
<path d="M113.6,213.7 C117.4,212.7 128.1,209.4 136.2,207.4 C144.3,205.4 153.6,203.2 162.3,201.7 C171.0,200.2 179.8,199.1 188.5,198.3 C197.2,197.5 208.1,197.3 214.6,197.0 C221.1,196.7 223.3,196.6 227.7,196.7 C232.1,196.8 236.8,197.1 240.8,197.6 C244.9,198.1 250.1,199.3 252.0,199.6" fill="none" stroke="#0000ff" stroke-width="1.9" stroke-dasharray="2 2"/>
<path d="M113.6,213.7 C117.4,212.7 128.1,209.4 136.2,207.4 C144.3,205.4 153.6,203.2 162.3,201.7 C171.0,200.2 179.8,199.1 188.5,198.3 C197.2,197.5 208.1,197.3 214.6,197.0 C221.1,196.7 223.3,196.6 227.7,196.7 C232.1,196.8 236.8,197.1 240.8,197.6 C244.9,198.1 250.1,199.3 252.0,199.6" fill="none" stroke="#000" stroke-width="2.1" stroke-dasharray="6 4.5"/>
<path d="M250.0,199.0 C252.3,199.5 259.7,201.0 264.1,202.2 C268.5,203.4 272.2,204.5 276.2,206.0 C280.2,207.5 284.3,209.2 288.3,211.3 C292.3,213.4 296.3,215.9 300.3,218.8 C304.3,221.7 309.1,225.6 312.4,228.5 C315.7,231.4 317.1,232.8 320.0,236.0 C322.9,239.2 326.4,243.6 329.6,248.0 C332.8,252.4 336.1,257.4 339.3,262.6 C342.5,267.8 345.7,273.4 348.9,279.0 C352.1,284.6 355.7,290.5 358.6,296.3 C361.5,302.1 364.1,308.2 366.3,313.7 C368.5,319.2 370.2,324.3 372.0,329.1 C373.8,333.9 375.2,336.7 376.9,342.6 C378.6,348.5 380.2,356.7 382.1,364.3 C384.1,371.9 386.5,380.4 388.6,388.4 C390.8,396.4 392.9,404.1 395.0,412.4 C397.1,420.7 399.7,431.8 401.4,438.2 C403.1,444.6 404.4,448.9 405.0,451.0" fill="none" stroke="#000" stroke-width="0.9"/>
<path d="M250.0,199.0 C252.3,199.5 259.7,201.0 264.1,202.2 C268.5,203.4 272.2,204.5 276.2,206.0 C280.2,207.5 284.3,209.2 288.3,211.3 C292.3,213.4 296.3,215.9 300.3,218.8 C304.3,221.7 309.1,225.6 312.4,228.5 C315.7,231.4 317.1,232.8 320.0,236.0 C322.9,239.2 326.4,243.6 329.6,248.0 C332.8,252.4 336.1,257.4 339.3,262.6 C342.5,267.8 345.7,273.4 348.9,279.0 C352.1,284.6 355.7,290.5 358.6,296.3 C361.5,302.1 364.1,308.2 366.3,313.7 C368.5,319.2 370.2,324.3 372.0,329.1 C373.8,333.9 375.2,336.7 376.9,342.6 C378.6,348.5 380.2,356.7 382.1,364.3 C384.1,371.9 386.5,380.4 388.6,388.4 C390.8,396.4 392.9,404.1 395.0,412.4 C397.1,420.7 399.7,431.8 401.4,438.2 C403.1,444.6 404.4,448.9 405.0,451.0" fill="none" stroke="#000" stroke-width="2.0" stroke-dasharray="2.6 2.6"/>
<path d="M250.0,199.0 C252.3,199.5 259.7,201.0 264.1,202.2 C268.5,203.4 272.2,204.5 276.2,206.0 C280.2,207.5 284.3,209.2 288.3,211.3 C292.3,213.4 296.3,215.9 300.3,218.8 C304.3,221.7 309.1,225.6 312.4,228.5 C315.7,231.4 317.1,232.8 320.0,236.0 C322.9,239.2 326.4,243.6 329.6,248.0 C332.8,252.4 336.1,257.4 339.3,262.6 C342.5,267.8 345.7,273.4 348.9,279.0 C352.1,284.6 355.7,290.5 358.6,296.3 C361.5,302.1 365.0,310.8 366.3,313.7" fill="none" stroke="#000" stroke-width="2.8" stroke-dasharray="2.6 2.6"/>
<path d="M391.0,392.0 L391.2,392.8 L391.5,393.8 L391.8,394.9 L392.1,396.1 L392.5,397.5 L392.8,398.9 L393.3,400.4 L393.7,402.0 L394.1,403.7 L394.6,405.3 L395.0,407.0 L395.4,408.7 L395.9,410.4 L396.3,412.0 L396.7,413.4 L397.0,414.8 L397.4,416.3 L397.8,417.8 L398.2,419.4 L398.6,420.9 L399.0,422.6 L399.4,424.2 L399.9,425.8 L400.3,427.3 L400.7,428.9 L401.0,430.4 L401.4,431.9 L401.8,433.3 L402.1,434.6 L402.4,435.8 L402.7,437.0 L403.2,438.9 L403.6,440.6 L403.9,442.0 L404.2,443.3 L404.5,444.5 L404.7,445.7 L405.0,446.9 L405.3,448.2 L405.6,449.7 L405.9,451.2 L406.2,452.8 L406.5,454.4 L406.8,456.1 L407.1,457.8 L407.5,459.5 L407.8,461.1 L408.1,462.6 L408.5,463.9 L408.9,465.1 L409.7,466.9 L410.7,468.3 L411.6,469.4 L412.7,470.2 L413.7,470.9 L415.0,471.7 L416.3,472.1 L417.8,472.4 L419.5,472.3 L420.7,472.1 L422.0,471.8 L423.3,471.5 L424.8,471.0 L426.2,470.5 L427.7,470.0 L429.1,469.4 L430.5,468.8 L431.9,468.2 L433.3,467.5 L434.6,466.8 L436.0,466.0 L437.4,465.3 L438.8,464.6 L440.2,463.9 L441.5,463.2 L442.9,462.6 L444.3,461.9 L445.7,461.2 L447.0,460.5 L448.4,459.8 L449.8,459.0 L451.2,458.3 L452.6,457.4 L453.9,456.6 L455.3,455.9 L456.7,455.1 L458.1,454.5 L459.5,454.0 L460.8,453.5 L462.2,453.0 L463.6,452.6 L465.0,452.3 L466.3,451.9 L467.7,451.6 L469.1,451.3 L470.4,451.0 L471.8,450.7 L473.2,450.5 L474.5,450.2 L476.0,450.0 L477.4,449.7 L478.9,449.5 L480.4,449.3 L481.9,449.1 L483.4,449.0 L485.0,448.7 L486.6,448.3 L488.2,447.8 L489.5,447.2 L490.9,446.6 L492.4,445.8 L493.8,445.0 L495.3,444.1 L496.7,443.3 L498.0,442.5 L499.3,441.6 L500.5,441.0 L502.0,440.4 L503.2,439.7 L504.4,439.1 L505.5,438.6 L506.7,438.2 L508.3,437.9 L509.5,437.9 L510.9,437.9 L512.3,438.0 L513.8,438.0 L515.3,438.3 L516.8,438.3 L518.4,438.3 L519.9,438.5 L521.4,438.6 L522.9,438.5 L524.4,438.1 L525.9,438.1 L527.4,437.8 L528.9,437.4 L530.3,437.2 L531.8,437.2 L533.2,436.8 L534.5,436.6 L536.1,436.2 L537.7,436.3 L539.1,435.9 L540.6,435.8 L542.0,435.4 L543.4,435.1 L544.9,434.3 L546.2,433.9 L547.5,433.2 L548.8,432.3 L550.1,430.8 L551.5,430.1 L552.8,429.2 L554.1,428.2 L555.4,427.1 L556.7,426.7 L558.0,425.9 L559.2,425.5 L560.5,424.6 L561.8,424.3 L563.1,423.9 L564.5,423.2 L565.9,422.8 L567.2,422.4 L568.7,421.8 L570.1,421.3 L571.6,421.1 L573.2,421.0 L574.7,420.4 L576.1,420.2 L577.6,420.0 L578.9,419.6 L580.6,419.4 L582.2,419.0 L583.9,418.5 L585.4,418.4 L586.9,418.4 L588.2,417.9 L589.4,417.4 L590.9,416.7 L591.8,415.9 L592.9,415.1 L594.6,414.2 L595.7,413.8 L597.0,413.7 L598.5,412.8 L600.0,412.6 L601.6,412.4 L603.2,412.2 L604.8,411.8 L606.3,411.2 L607.7,410.8 L609.1,410.0 L610.4,409.7 L611.7,409.0 L613.0,408.1 L614.2,407.3 L615.5,407.0 L616.8,405.8 L618.2,405.2 L619.5,405.4 L620.9,404.8 L622.4,404.8 L623.8,404.6 L625.3,404.5 L626.8,404.1 L628.3,404.3 L629.8,403.8 L631.3,403.6 L632.8,403.7 L634.3,403.2 L635.8,402.7 L637.4,402.2 L638.9,401.9 L640.3,401.4 L641.8,401.6 L643.1,400.8 L644.3,400.4 L645.9,399.3 L647.2,399.0 L648.4,397.6 L649.6,397.7 L650.8,396.3 L652.2,395.9 L653.6,394.6 L655.1,395.3 L656.7,394.7 L658.3,394.6 L659.8,393.8 L661.3,394.0 L662.7,393.7 L664.1,392.8 L665.4,392.3 L666.6,391.6 L667.8,390.9 L669.1,389.4 L670.5,389.0 L671.7,388.4 L672.9,387.7 L674.2,387.3 L675.6,385.6 L677.0,386.4 L678.3,385.6 L679.7,384.9 L681.0,384.5 L682.5,384.5 L684.0,384.5 L685.5,384.2 L686.9,384.7 L688.4,384.6 L689.9,384.7 L691.4,384.5 L692.7,384.0 L694.0,383.2 L695.2,382.6 L696.5,381.5 L697.8,381.4 L699.1,379.1 L700.5,379.8 L701.9,378.7 L703.2,377.8 L704.6,378.2 L706.1,376.9 L707.5,377.3 L709.0,376.1 L710.4,376.0 L711.9,375.5 L713.3,375.0 L714.6,374.8 L716.2,374.6 L717.8,374.0 L719.3,374.3 L720.7,374.3 L722.2,373.8 L723.6,373.8 L725.1,372.3 L726.4,372.3 L727.7,371.7 L729.0,371.2 L730.4,370.8 L731.7,369.3 L733.0,369.0 L734.3,368.2 L735.6,367.8 L737.1,366.9 L738.6,367.3 L740.1,367.2 L741.6,366.9 L743.1,366.4 L744.6,365.9 L746.1,365.2 L747.4,365.0 L748.7,364.6 L750.1,364.4 L751.4,363.7 L752.7,362.2 L754.1,361.8 L755.4,361.6 L756.7,362.1 L758.2,361.6 L759.7,361.0 L761.2,360.6 L762.7,359.5 L764.2,359.7 L765.7,359.3 L767.2,358.5 L768.5,358.4 L769.8,358.2 L771.0,357.3 L772.3,356.6 L773.6,356.6 L774.9,355.9 L776.3,353.9 L777.7,354.6 L779.0,354.3 L780.4,353.8 L781.9,353.0 L783.3,353.1 L784.8,351.7 L786.3,351.1 L787.8,351.5 L789.3,350.7 L790.8,350.1 L792.3,349.6 L793.8,349.1 L795.3,348.4 L796.8,348.3 L798.3,347.3 L799.8,347.2 L801.2,346.8 L802.7,345.7 L804.0,344.2 L805.6,344.8 L807.2,344.2 L808.7,343.8 L810.1,344.2 L811.6,342.9 L813.0,342.5 L814.5,342.1 L816.0,341.2 L817.4,341.1 L818.7,341.0 L820.2,340.4 L821.7,339.8 L823.2,339.3 L825.0,338.6 L826.3,337.6 L827.7,337.6 L829.2,337.2 L830.9,336.0 L832.5,336.9 L834.1,335.6 L835.7,336.2 L837.1,334.7 L838.4,335.2 L839.5,335.5 L840.3,334.8 L840.3,338.7 L839.5,338.3 L838.4,339.0 L837.1,339.3 L835.7,338.9 L834.1,339.1 L832.5,339.7 L830.9,340.5 L829.2,341.1 L827.7,341.5 L826.3,341.2 L825.0,341.6 L823.2,342.9 L821.7,344.6 L820.2,345.3 L818.7,344.5 L817.4,344.3 L816.0,344.8 L814.5,345.6 L813.2,345.8 L811.9,348.0 L810.7,347.3 L809.4,348.0 L808.1,349.5 L806.8,349.0 L805.4,349.7 L804.0,349.6 L802.7,350.6 L801.2,351.2 L799.8,351.2 L798.3,352.1 L796.8,353.1 L795.3,353.4 L793.8,352.9 L792.3,354.6 L790.8,354.8 L789.3,356.2 L787.8,355.5 L786.3,357.3 L784.8,356.8 L783.3,357.9 L781.9,358.0 L780.4,359.0 L779.0,359.5 L777.7,360.6 L776.3,361.2 L774.9,360.8 L773.6,362.0 L772.3,361.8 L771.0,363.5 L769.8,363.0 L768.5,363.6 L767.2,365.2 L765.7,366.2 L764.2,366.1 L762.7,366.4 L761.2,366.4 L759.7,367.6 L758.2,368.3 L756.7,369.3 L755.4,369.9 L754.1,369.6 L752.7,370.3 L751.4,371.6 L750.1,371.4 L748.7,372.0 L747.4,372.1 L746.1,372.1 L744.6,373.6 L743.1,373.5 L741.6,373.8 L740.1,375.1 L738.6,375.0 L737.1,375.0 L735.6,375.3 L734.3,376.6 L733.0,377.7 L731.7,377.1 L730.4,378.1 L729.0,378.6 L727.7,379.4 L726.4,380.2 L725.1,381.1 L723.6,381.1 L722.2,380.9 L720.7,381.7 L719.3,381.2 L717.8,380.7 L716.2,380.7 L714.6,381.3 L713.3,382.5 L711.9,382.2 L710.4,382.7 L709.0,382.6 L707.5,383.5 L706.1,383.9 L704.6,383.7 L703.2,384.6 L701.9,384.6 L700.3,385.5 L698.7,385.6 L697.2,385.8 L695.8,386.1 L694.3,386.9 L692.9,387.8 L691.4,387.2 L690.1,388.0 L688.8,389.6 L687.5,389.7 L686.2,391.2 L684.9,391.7 L683.6,392.6 L682.3,392.7 L681.0,393.2 L679.5,394.3 L677.9,394.5 L676.4,395.4 L674.8,395.7 L673.3,395.9 L671.9,396.5 L670.5,396.3 L669.1,397.9 L667.8,397.2 L666.6,398.0 L665.4,398.5 L664.1,399.1 L662.7,399.6 L661.5,400.6 L660.2,402.6 L658.8,402.4 L657.5,402.9 L656.1,404.0 L654.7,405.0 L653.4,405.3 L652.2,405.5 L650.5,406.7 L649.1,407.1 L647.7,406.2 L646.2,406.3 L644.3,407.3 L643.2,408.0 L642.0,408.6 L640.8,409.0 L639.5,409.7 L638.1,410.9 L636.8,411.6 L635.4,412.2 L634.0,412.8 L632.6,413.4 L631.3,413.6 L629.8,414.3 L628.3,413.9 L626.8,414.0 L625.3,414.7 L623.8,414.0 L622.4,413.8 L620.9,413.7 L619.5,413.6 L618.2,413.5 L616.6,413.9 L615.1,414.0 L613.7,414.5 L612.2,414.8 L610.8,415.5 L609.3,416.2 L607.7,416.4 L606.3,416.7 L604.8,417.1 L603.2,417.4 L601.6,417.6 L600.0,418.2 L598.5,418.6 L597.0,419.4 L595.7,419.8 L594.6,420.1 L593.1,421.3 L592.2,422.4 L591.5,423.7 L590.7,424.6 L589.4,425.5 L588.2,426.2 L586.9,426.1 L585.4,426.0 L583.9,425.9 L582.2,426.2 L580.6,426.2 L578.9,426.6 L577.7,427.2 L576.4,427.5 L575.1,428.5 L573.8,429.2 L572.4,429.7 L571.0,430.5 L569.7,431.1 L568.4,432.0 L567.1,432.5 L565.9,433.2 L564.5,434.1 L563.1,435.0 L561.8,435.4 L560.5,436.3 L559.2,436.9 L558.0,437.4 L556.7,437.9 L555.4,438.5 L553.9,439.4 L552.4,439.5 L550.9,440.2 L549.4,440.4 L547.9,441.2 L546.4,441.6 L544.9,442.3 L543.6,443.4 L542.4,444.1 L541.1,445.3 L539.9,446.1 L538.6,447.3 L537.3,448.5 L535.9,448.9 L534.5,449.9 L533.1,450.0 L531.7,450.4 L530.2,450.6 L528.7,450.7 L527.2,451.0 L525.7,451.2 L524.2,451.2 L522.8,451.3 L521.4,451.7 L520.0,452.1 L518.6,452.7 L517.3,453.5 L516.0,454.3 L514.7,455.0 L513.5,455.8 L512.2,456.3 L510.9,456.9 L509.4,457.2 L508.0,457.5 L506.5,457.7 L505.1,457.8 L503.6,458.0 L502.1,458.0 L500.5,458.1 L499.0,458.2 L497.4,458.2 L495.8,458.1 L494.1,458.2 L492.5,458.1 L491.0,458.2 L489.5,458.2 L488.2,458.4 L486.5,458.8 L485.0,459.3 L483.7,459.9 L482.4,460.5 L481.0,461.2 L479.7,461.8 L478.3,462.4 L477.0,462.9 L475.5,463.5 L474.1,464.1 L472.6,464.6 L471.3,465.0 L469.9,465.3 L468.5,465.7 L467.1,466.0 L465.7,466.3 L464.3,466.6 L462.9,467.0 L461.5,467.4 L460.2,467.8 L458.8,468.2 L457.4,468.6 L456.0,469.1 L454.7,469.5 L453.3,469.9 L451.9,470.3 L450.5,470.7 L449.1,471.0 L447.8,471.4 L446.4,471.8 L445.0,472.3 L443.6,472.8 L442.2,473.4 L440.8,474.1 L439.3,474.9 L437.9,475.7 L436.5,476.5 L435.2,477.3 L434.0,478.1 L432.7,479.0 L431.5,479.9 L430.4,480.8 L429.4,481.7 L428.3,482.6 L427.2,483.4 L425.8,484.5 L424.5,485.6 L423.1,486.6 L421.8,487.4 L420.4,488.0 L419.0,488.2 L417.5,488.3 L416.1,488.1 L414.8,487.6 L413.7,487.0 L412.9,486.1 L412.3,485.0 L411.8,483.7 L411.3,482.2 L410.8,480.5 L410.4,479.3 L410.1,478.1 L409.8,476.8 L409.4,475.4 L409.1,473.9 L408.7,472.3 L408.3,470.7 L407.9,469.0 L407.6,467.7 L407.2,466.3 L406.9,464.8 L406.5,463.2 L406.1,461.7 L405.7,460.1 L405.3,458.5 L404.9,456.9 L404.5,455.4 L404.2,453.9 L403.8,452.5 L403.4,450.9 L403.0,449.5 L402.7,448.2 L402.3,447.0 L402.0,445.7 L401.6,444.3 L401.2,442.8 L400.7,441.0 L400.2,439.0 L399.9,437.8 L399.6,436.6 L399.3,435.3 L398.9,433.9 L398.6,432.5 L398.2,431.0 L397.8,429.4 L397.4,427.9 L397.0,426.3 L396.6,424.7 L396.3,423.1 L395.9,421.5 L395.5,420.0 L395.2,418.4 L394.8,416.9 L394.5,415.5 L394.2,414.1 L393.9,412.8 L393.5,411.0 L393.2,409.2 L392.9,407.4 L392.6,405.6 L392.3,403.8 L392.0,402.1 L391.7,400.4 L391.5,398.9 L391.3,397.4 L391.1,396.1 L390.9,394.9 L390.7,393.9 L390.6,393.0Z" fill="#000" stroke="#080808" stroke-width="0.6"/>
<path d="M390.6,393.0 L390.7,393.9 L390.9,394.9 L391.1,396.1 L391.3,397.4 L391.5,398.9 L391.7,400.4 L392.0,402.1 L392.3,403.8 L392.6,405.6 L392.9,407.4 L393.2,409.2 L393.5,411.0 L393.9,412.8 L394.2,414.1 L394.5,415.5 L394.8,416.9 L395.2,418.4 L395.5,420.0 L395.9,421.5 L396.3,423.1 L396.6,424.7 L397.0,426.3 L397.4,427.9 L397.8,429.4 L398.2,431.0 L398.6,432.5 L398.9,433.9 L399.3,435.3 L399.6,436.6 L399.9,437.8 L400.2,439.0 L400.7,441.0 L401.2,442.8 L401.6,444.3 L402.0,445.7 L402.3,447.0 L402.7,448.2 L403.0,449.5 L403.4,450.9 L403.8,452.5 L404.2,453.9 L404.5,455.4 L404.9,456.9 L405.3,458.5 L405.7,460.1 L406.1,461.7 L406.5,463.2 L406.9,464.8 L407.2,466.3 L407.6,467.7 L407.9,469.0 L408.3,470.7 L408.7,472.3 L409.1,473.9 L409.4,475.4 L409.8,476.8 L410.1,478.1 L410.4,479.3 L410.8,480.5 L411.3,482.2 L411.8,483.7 L412.3,485.0 L412.9,486.1 L413.7,487.0 L414.8,487.6 L416.1,488.1 L417.5,488.3 L419.0,488.2 L420.4,488.0 L421.8,487.4 L423.1,486.6 L424.5,485.6 L425.8,484.5 L427.2,483.4 L428.3,482.6 L429.4,481.7 L430.4,480.8 L431.5,479.9 L432.7,479.0 L434.0,478.1 L435.2,477.3 L436.5,476.5 L437.9,475.7 L439.3,474.9 L440.8,474.1 L442.2,473.4 L443.6,472.8 L445.0,472.3 L446.4,471.8 L447.8,471.4 L449.1,471.0 L450.5,470.7 L451.9,470.3 L453.3,469.9 L454.7,469.5 L456.0,469.1 L457.4,468.6 L458.8,468.2 L460.2,467.8 L461.5,467.4 L462.9,467.0 L464.3,466.6 L465.7,466.3 L467.1,466.0 L468.5,465.7 L469.9,465.3 L471.3,465.0 L472.6,464.6 L474.1,464.1 L475.5,463.5 L477.0,462.9 L478.3,462.4 L479.7,461.8 L481.0,461.2 L482.4,460.5 L483.7,459.9 L485.0,459.3 L486.5,458.8 L488.2,458.4 L489.5,458.2 L491.0,458.2 L492.5,458.1 L494.1,458.2 L495.8,458.1 L497.4,458.2 L499.0,458.2 L500.5,458.1 L502.1,458.0 L503.6,458.0 L505.1,457.8 L506.5,457.7 L508.0,457.5 L509.4,457.2 L510.9,456.9 L512.2,456.3 L513.5,455.8 L514.7,455.0 L516.0,454.3 L517.3,453.5 L518.6,452.7 L520.0,452.1 L521.4,451.7 L522.8,451.3 L524.2,451.2 L525.7,451.2 L527.2,451.0 L528.7,450.7 L530.2,450.6 L531.7,450.4 L533.1,450.0 L534.5,449.9 L535.9,448.9 L537.3,448.5 L538.6,447.3 L539.9,446.1 L541.1,445.3 L542.4,444.1 L543.6,443.4 L544.9,442.3 L546.4,441.6 L547.9,441.2 L549.4,440.4 L550.9,440.2 L552.4,439.5 L553.9,439.4 L555.4,438.5 L556.7,437.9 L558.0,437.4 L559.2,436.9 L560.5,436.3 L561.8,435.4 L563.1,435.0 L564.5,434.1 L565.9,433.2 L567.1,432.5 L568.4,432.0 L569.7,431.1 L571.0,430.5 L572.4,429.7 L573.8,429.2 L575.1,428.5 L576.4,427.5 L577.7,427.2 L578.9,426.6 L580.6,426.2 L582.2,426.2 L583.9,425.9 L585.4,426.0 L586.9,426.1 L588.2,426.2 L589.4,425.5 L590.7,424.6 L591.5,423.7 L592.2,422.4 L593.1,421.3 L594.6,420.1 L595.7,419.8 L597.0,419.4 L598.5,418.6 L600.0,418.2 L601.6,417.6 L603.2,417.4 L604.8,417.1 L606.3,416.7 L607.7,416.4 L609.3,416.2 L610.8,415.5 L612.2,414.8 L613.7,414.5 L615.1,414.0 L616.6,413.9 L618.2,413.5 L619.5,413.6 L620.9,413.7 L622.4,413.8 L623.8,414.0 L625.3,414.7 L626.8,414.0 L628.3,413.9 L629.8,414.3 L631.3,413.6 L632.6,413.4 L634.0,412.8 L635.4,412.2 L636.8,411.6 L638.1,410.9 L639.5,409.7 L640.8,409.0 L642.0,408.6 L643.2,408.0 L644.3,407.3 L646.2,406.3 L647.7,406.2 L649.1,407.1 L650.5,406.7 L652.2,405.5 L653.4,405.3 L654.7,405.0 L656.1,404.0 L657.5,402.9 L658.8,402.4 L660.2,402.6 L661.5,400.6 L662.7,399.6 L664.1,399.1 L665.4,398.5 L666.6,398.0 L667.8,397.2 L669.1,397.9 L670.5,396.3 L671.9,396.5 L673.3,395.9 L674.8,395.7 L676.4,395.4 L677.9,394.5 L679.5,394.3 L681.0,393.2 L682.3,392.7 L683.6,392.6 L684.9,391.7 L686.2,391.2 L687.5,389.7 L688.8,389.6 L690.1,388.0 L691.4,387.2 L692.9,387.8 L694.3,386.9 L695.8,386.1 L697.2,385.8 L698.7,385.6 L700.3,385.5 L701.9,384.6 L703.2,384.6 L704.6,383.7 L706.1,383.9 L707.5,383.5 L709.0,382.6 L710.4,382.7 L711.9,382.2 L713.3,382.5 L714.6,381.3 L716.2,380.7 L717.8,380.7 L719.3,381.2 L720.7,381.7 L722.2,380.9 L723.6,381.1 L725.1,381.1 L726.4,380.2 L727.7,379.4 L729.0,378.6 L730.4,378.1 L731.7,377.1 L733.0,377.7 L734.3,376.6 L735.6,375.3 L737.1,375.0 L738.6,375.0 L740.1,375.1 L741.6,373.8 L743.1,373.5 L744.6,373.6 L746.1,372.1 L747.4,372.1 L748.7,372.0 L750.1,371.4 L751.4,371.6 L752.7,370.3 L754.1,369.6 L755.4,369.9 L756.7,369.3 L758.2,368.3 L759.7,367.6 L761.2,366.4 L762.7,366.4 L764.2,366.1 L765.7,366.2 L767.2,365.2 L768.5,363.6 L769.8,363.0 L771.0,363.5 L772.3,361.8 L773.6,362.0 L774.9,360.8 L776.3,361.2 L777.7,360.6 L779.0,359.5 L780.4,359.0 L781.9,358.0 L783.3,357.9 L784.8,356.8 L786.3,357.3 L787.8,355.5 L789.3,356.2 L790.8,354.8 L792.3,354.6 L793.8,352.9 L795.3,353.4 L796.8,353.1 L798.3,352.1 L799.8,351.2 L801.2,351.2 L802.7,350.6 L804.0,349.6 L805.4,349.7 L806.8,349.0 L808.1,349.5 L809.4,348.0 L810.7,347.3 L811.9,348.0 L813.2,345.8 L814.5,345.6 L816.0,344.8 L817.4,344.3 L818.7,344.5 L820.2,345.3 L821.7,344.6 L823.2,342.9 L825.0,341.6 L826.3,341.2 L827.7,341.5 L829.2,341.1 L830.9,340.5 L832.5,339.7 L834.1,339.1 L835.7,338.9 L837.1,339.3 L838.4,339.0 L839.5,338.3 L840.3,338.7" fill="none" stroke="#080808" stroke-width="1.5" stroke-dasharray="1.3 1.4" stroke-linejoin="round"/>
<path d="M391.0,392.0 L391.2,392.8 L391.5,393.8 L391.8,394.9 L392.1,396.1 L392.5,397.5 L392.8,398.9 L393.3,400.4 L393.7,402.0 L394.1,403.7 L394.6,405.3 L395.0,407.0 L395.4,408.7 L395.9,410.4 L396.3,412.0 L396.7,413.4 L397.0,414.8 L397.4,416.3 L397.8,417.8 L398.2,419.4 L398.6,420.9 L399.0,422.6 L399.4,424.2 L399.9,425.8 L400.3,427.3 L400.7,428.9 L401.0,430.4 L401.4,431.9 L401.8,433.3 L402.1,434.6 L402.4,435.8 L402.7,437.0 L403.2,438.9 L403.6,440.6 L403.9,442.0 L404.2,443.3 L404.5,444.5 L404.7,445.7 L405.0,446.9 L405.3,448.2 L405.6,449.7 L405.9,451.2 L406.2,452.8 L406.5,454.4 L406.8,456.1 L407.1,457.8 L407.5,459.5 L407.8,461.1 L408.1,462.6 L408.5,463.9 L408.9,465.1 L409.7,466.9 L410.7,468.3 L411.6,469.4 L412.7,470.2 L413.7,470.9 L415.0,471.7 L416.3,472.1 L417.8,472.4 L419.5,472.3 L420.7,472.1 L422.0,471.8 L423.3,471.5 L424.8,471.0 L426.2,470.5 L427.7,470.0 L429.1,469.4 L430.5,468.8 L431.9,468.2 L433.3,467.5 L434.6,466.8 L436.0,466.0 L437.4,465.3 L438.8,464.6 L440.2,463.9 L441.5,463.2 L442.9,462.6 L444.3,461.9 L445.7,461.2 L447.0,460.5 L448.4,459.8 L449.8,459.0 L451.2,458.3 L452.6,457.4 L453.9,456.6 L455.3,455.9 L456.7,455.1 L458.1,454.5 L459.5,454.0 L460.8,453.5 L462.2,453.0 L463.6,452.6 L465.0,452.3 L466.3,451.9 L467.7,451.6 L469.1,451.3 L470.4,451.0 L471.8,450.7 L473.2,450.5 L474.5,450.2 L476.0,450.0 L477.4,449.7 L478.9,449.5 L480.4,449.3 L481.9,449.1 L483.4,449.0 L485.0,448.7 L486.6,448.3 L488.2,447.8 L489.5,447.2 L490.9,446.6 L492.4,445.8 L493.8,445.0 L495.3,444.1 L496.7,443.3 L498.0,442.5 L499.3,441.6 L500.5,441.0 L502.0,440.4 L503.2,439.7 L504.4,439.1 L505.5,438.6 L506.7,438.2 L508.3,437.9 L509.5,437.9 L510.9,437.9 L512.3,438.0 L513.8,438.0 L515.3,438.3 L516.8,438.3 L518.4,438.3 L519.9,438.5 L521.4,438.6 L522.9,438.5 L524.4,438.1 L525.9,438.1 L527.4,437.8 L528.9,437.4 L530.3,437.2 L531.8,437.2 L533.2,436.8 L534.5,436.6 L536.1,436.2 L537.7,436.3 L539.1,435.9 L540.6,435.8 L542.0,435.4 L543.4,435.1 L544.9,434.3 L546.2,433.9 L547.5,433.2 L548.8,432.3 L550.1,430.8 L551.5,430.1 L552.8,429.2 L554.1,428.2 L555.4,427.1 L556.7,426.7 L558.0,425.9 L559.2,425.5 L560.5,424.6 L561.8,424.3 L563.1,423.9 L564.5,423.2 L565.9,422.8 L567.2,422.4 L568.7,421.8 L570.1,421.3 L571.6,421.1 L573.2,421.0 L574.7,420.4 L576.1,420.2 L577.6,420.0 L578.9,419.6 L580.6,419.4 L582.2,419.0 L583.9,418.5 L585.4,418.4 L586.9,418.4 L588.2,417.9 L589.4,417.4 L590.9,416.7 L591.8,415.9 L592.9,415.1 L594.6,414.2 L595.7,413.8 L597.0,413.7 L598.5,412.8 L600.0,412.6 L601.6,412.4 L603.2,412.2 L604.8,411.8 L606.3,411.2 L607.7,410.8 L609.1,410.0 L610.4,409.7 L611.7,409.0 L613.0,408.1 L614.2,407.3 L615.5,407.0 L616.8,405.8 L618.2,405.2 L619.5,405.4 L620.9,404.8 L622.4,404.8 L623.8,404.6 L625.3,404.5 L626.8,404.1 L628.3,404.3 L629.8,403.8 L631.3,403.6 L632.8,403.7 L634.3,403.2 L635.8,402.7 L637.4,402.2 L638.9,401.9 L640.3,401.4 L641.8,401.6 L643.1,400.8 L644.3,400.4 L645.9,399.3 L647.2,399.0 L648.4,397.6 L649.6,397.7 L650.8,396.3 L652.2,395.9 L653.6,394.6 L655.1,395.3 L656.7,394.7 L658.3,394.6 L659.8,393.8 L661.3,394.0 L662.7,393.7 L664.1,392.8 L665.4,392.3 L666.6,391.6 L667.8,390.9 L669.1,389.4 L670.5,389.0 L671.7,388.4 L672.9,387.7 L674.2,387.3 L675.6,385.6 L677.0,386.4 L678.3,385.6 L679.7,384.9 L681.0,384.5 L682.5,384.5 L684.0,384.5 L685.5,384.2 L686.9,384.7 L688.4,384.6 L689.9,384.7 L691.4,384.5 L692.7,384.0 L694.0,383.2 L695.2,382.6 L696.5,381.5 L697.8,381.4 L699.1,379.1 L700.5,379.8 L701.9,378.7 L703.2,377.8 L704.6,378.2 L706.1,376.9 L707.5,377.3 L709.0,376.1 L710.4,376.0 L711.9,375.5 L713.3,375.0 L714.6,374.8 L716.2,374.6 L717.8,374.0 L719.3,374.3 L720.7,374.3 L722.2,373.8 L723.6,373.8 L725.1,372.3 L726.4,372.3 L727.7,371.7 L729.0,371.2 L730.4,370.8 L731.7,369.3 L733.0,369.0 L734.3,368.2 L735.6,367.8 L737.1,366.9 L738.6,367.3 L740.1,367.2 L741.6,366.9 L743.1,366.4 L744.6,365.9 L746.1,365.2 L747.4,365.0 L748.7,364.6 L750.1,364.4 L751.4,363.7 L752.7,362.2 L754.1,361.8 L755.4,361.6 L756.7,362.1 L758.2,361.6 L759.7,361.0 L761.2,360.6 L762.7,359.5 L764.2,359.7 L765.7,359.3 L767.2,358.5 L768.5,358.4 L769.8,358.2 L771.0,357.3 L772.3,356.6 L773.6,356.6 L774.9,355.9 L776.3,353.9 L777.7,354.6 L779.0,354.3 L780.4,353.8 L781.9,353.0 L783.3,353.1 L784.8,351.7 L786.3,351.1 L787.8,351.5 L789.3,350.7 L790.8,350.1 L792.3,349.6 L793.8,349.1 L795.3,348.4 L796.8,348.3 L798.3,347.3 L799.8,347.2 L801.2,346.8 L802.7,345.7 L804.0,344.2 L805.6,344.8 L807.2,344.2 L808.7,343.8 L810.1,344.2 L811.6,342.9 L813.0,342.5 L814.5,342.1 L816.0,341.2 L817.4,341.1 L818.7,341.0 L820.2,340.4 L821.7,339.8 L823.2,339.3 L825.0,338.6 L826.3,337.6 L827.7,337.6 L829.2,337.2 L830.9,336.0 L832.5,336.9 L834.1,335.6 L835.7,336.2 L837.1,334.7 L838.4,335.2 L839.5,335.5 L840.3,334.8 L840.3,338.7 L839.5,338.3 L838.4,339.0 L837.1,339.3 L835.7,338.9 L834.1,339.1 L832.5,339.7 L830.9,340.5 L829.2,341.1 L827.7,341.5 L826.3,341.2 L825.0,341.6 L823.2,342.9 L821.7,344.6 L820.2,345.3 L818.7,344.5 L817.4,344.3 L816.0,344.8 L814.5,345.6 L813.2,345.8 L811.9,348.0 L810.7,347.3 L809.4,348.0 L808.1,349.5 L806.8,349.0 L805.4,349.7 L804.0,349.6 L802.7,350.6 L801.2,351.2 L799.8,351.2 L798.3,352.1 L796.8,353.1 L795.3,353.4 L793.8,352.9 L792.3,354.6 L790.8,354.8 L789.3,356.2 L787.8,355.5 L786.3,357.3 L784.8,356.8 L783.3,357.9 L781.9,358.0 L780.4,359.0 L779.0,359.5 L777.7,360.6 L776.3,361.2 L774.9,360.8 L773.6,362.0 L772.3,361.8 L771.0,363.5 L769.8,363.0 L768.5,363.6 L767.2,365.2 L765.7,366.2 L764.2,366.1 L762.7,366.4 L761.2,366.4 L759.7,367.6 L758.2,368.3 L756.7,369.3 L755.4,369.9 L754.1,369.6 L752.7,370.3 L751.4,371.6 L750.1,371.4 L748.7,372.0 L747.4,372.1 L746.1,372.1 L744.6,373.6 L743.1,373.5 L741.6,373.8 L740.1,375.1 L738.6,375.0 L737.1,375.0 L735.6,375.3 L734.3,376.6 L733.0,377.7 L731.7,377.1 L730.4,378.1 L729.0,378.6 L727.7,379.4 L726.4,380.2 L725.1,381.1 L723.6,381.1 L722.2,380.9 L720.7,381.7 L719.3,381.2 L717.8,380.7 L716.2,380.7 L714.6,381.3 L713.3,382.5 L711.9,382.2 L710.4,382.7 L709.0,382.6 L707.5,383.5 L706.1,383.9 L704.6,383.7 L703.2,384.6 L701.9,384.6 L700.3,385.5 L698.7,385.6 L697.2,385.8 L695.8,386.1 L694.3,386.9 L692.9,387.8 L691.4,387.2 L690.1,388.0 L688.8,389.6 L687.5,389.7 L686.2,391.2 L684.9,391.7 L683.6,392.6 L682.3,392.7 L681.0,393.2 L679.5,394.3 L677.9,394.5 L676.4,395.4 L674.8,395.7 L673.3,395.9 L671.9,396.5 L670.5,396.3 L669.1,397.9 L667.8,397.2 L666.6,398.0 L665.4,398.5 L664.1,399.1 L662.7,399.6 L661.5,400.6 L660.2,402.6 L658.8,402.4 L657.5,402.9 L656.1,404.0 L654.7,405.0 L653.4,405.3 L652.2,405.5 L650.5,406.7 L649.1,407.1 L647.7,406.2 L646.2,406.3 L644.3,407.3 L643.2,408.0 L642.0,408.6 L640.8,409.0 L639.5,409.7 L638.1,410.9 L636.8,411.6 L635.4,412.2 L634.0,412.8 L632.6,413.4 L631.3,413.6 L629.8,414.3 L628.3,413.9 L626.8,414.0 L625.3,414.7 L623.8,414.0 L622.4,413.8 L620.9,413.7 L619.5,413.6 L618.2,413.5 L616.6,413.9 L615.1,414.0 L613.7,414.5 L612.2,414.8 L610.8,415.5 L609.3,416.2 L607.7,416.4 L606.3,416.7 L604.8,417.1 L603.2,417.4 L601.6,417.6 L600.0,418.2 L598.5,418.6 L597.0,419.4 L595.7,419.8 L594.6,420.1 L593.1,421.3 L592.2,422.4 L591.5,423.7 L590.7,424.6 L589.4,425.5 L588.2,426.2 L586.9,426.1 L585.4,426.0 L583.9,425.9 L582.2,426.2 L580.6,426.2 L578.9,426.6 L577.7,427.2 L576.4,427.5 L575.1,428.5 L573.8,429.2 L572.4,429.7 L571.0,430.5 L569.7,431.1 L568.4,432.0 L567.1,432.5 L565.9,433.2 L564.5,434.1 L563.1,435.0 L561.8,435.4 L560.5,436.3 L559.2,436.9 L558.0,437.4 L556.7,437.9 L555.4,438.5 L553.9,439.4 L552.4,439.5 L550.9,440.2 L549.4,440.4 L547.9,441.2 L546.4,441.6 L544.9,442.3 L543.6,443.4 L542.4,444.1 L541.1,445.3 L539.9,446.1 L538.6,447.3 L537.3,448.5 L535.9,448.9 L534.5,449.9 L533.1,450.0 L531.7,450.4 L530.2,450.6 L528.7,450.7 L527.2,451.0 L525.7,451.2 L524.2,451.2 L522.8,451.3 L521.4,451.7 L520.0,452.1 L518.6,452.7 L517.3,453.5 L516.0,454.3 L514.7,455.0 L513.5,455.8 L512.2,456.3 L510.9,456.9 L509.4,457.2 L508.0,457.5 L506.5,457.7 L505.1,457.8 L503.6,458.0 L502.1,458.0 L500.5,458.1 L499.0,458.2 L497.4,458.2 L495.8,458.1 L494.1,458.2 L492.5,458.1 L491.0,458.2 L489.5,458.2 L488.2,458.4 L486.5,458.8 L485.0,459.3 L483.7,459.9 L482.4,460.5 L481.0,461.2 L479.7,461.8 L478.3,462.4 L477.0,462.9 L475.5,463.5 L474.1,464.1 L472.6,464.6 L471.3,465.0 L469.9,465.3 L468.5,465.7 L467.1,466.0 L465.7,466.3 L464.3,466.6 L462.9,467.0 L461.5,467.4 L460.2,467.8 L458.8,468.2 L457.4,468.6 L456.0,469.1 L454.7,469.5 L453.3,469.9 L451.9,470.3 L450.5,470.7 L449.1,471.0 L447.8,471.4 L446.4,471.8 L445.0,472.3 L443.6,472.8 L442.2,473.4 L440.8,474.1 L439.3,474.9 L437.9,475.7 L436.5,476.5 L435.2,477.3 L434.0,478.1 L432.7,479.0 L431.5,479.9 L430.4,480.8 L429.4,481.7 L428.3,482.6 L427.2,483.4 L425.8,484.5 L424.5,485.6 L423.1,486.6 L421.8,487.4 L420.4,488.0 L419.0,488.2 L417.5,488.3 L416.1,488.1 L414.8,487.6 L413.7,487.0 L412.9,486.1 L412.3,485.0 L411.8,483.7 L411.3,482.2 L410.8,480.5 L410.4,479.3 L410.1,478.1 L409.8,476.8 L409.4,475.4 L409.1,473.9 L408.7,472.3 L408.3,470.7 L407.9,469.0 L407.6,467.7 L407.2,466.3 L406.9,464.8 L406.5,463.2 L406.1,461.7 L405.7,460.1 L405.3,458.5 L404.9,456.9 L404.5,455.4 L404.2,453.9 L403.8,452.5 L403.4,450.9 L403.0,449.5 L402.7,448.2 L402.3,447.0 L402.0,445.7 L401.6,444.3 L401.2,442.8 L400.7,441.0 L400.2,439.0 L399.9,437.8 L399.6,436.6 L399.3,435.3 L398.9,433.9 L398.6,432.5 L398.2,431.0 L397.8,429.4 L397.4,427.9 L397.0,426.3 L396.6,424.7 L396.3,423.1 L395.9,421.5 L395.5,420.0 L395.2,418.4 L394.8,416.9 L394.5,415.5 L394.2,414.1 L393.9,412.8 L393.5,411.0 L393.2,409.2 L392.9,407.4 L392.6,405.6 L392.3,403.8 L392.0,402.1 L391.7,400.4 L391.5,398.9 L391.3,397.4 L391.1,396.1 L390.9,394.9 L390.7,393.9 L390.6,393.0Z" fill="url(#vk)"/>
<rect x="730" y="33" width="77" height="15" fill="#ff0000"/>
<rect x="730.6" y="61.6" width="75.8" height="13.8" fill="#0000ff" stroke="#0000ff" stroke-width="1.2" stroke-dasharray="2.6 1.2"/>
<rect x="730.6" y="89.6" width="75.8" height="13.8" fill="#000" stroke="#000" stroke-width="1.2" stroke-dasharray="2.6 1.2"/>
<g stroke="#000" stroke-width="2" fill="none" stroke-linecap="butt">
<rect x="113.6" y="18.0" width="726.7" height="523.0"/>
<path d="M113.6,70.3h8.5 M840.3,70.3h-8.5"/>
<path d="M113.6,122.6h8.5 M840.3,122.6h-8.5"/>
<path d="M113.6,174.9h8.5 M840.3,174.9h-8.5"/>
<path d="M113.6,227.2h8.5 M840.3,227.2h-8.5"/>
<path d="M113.6,279.5h8.5 M840.3,279.5h-8.5"/>
<path d="M113.6,331.8h8.5 M840.3,331.8h-8.5"/>
<path d="M113.6,384.1h8.5 M840.3,384.1h-8.5"/>
<path d="M113.6,436.4h8.5 M840.3,436.4h-8.5"/>
<path d="M113.6,488.7h8.5 M840.3,488.7h-8.5"/>
<path d="M208.7,541.0v-4.2 M208.7,18.0v4.2"/>
<path d="M264.3,541.0v-4.2 M264.3,18.0v4.2"/>
<path d="M303.7,541.0v-4.2 M303.7,18.0v4.2"/>
<path d="M334.3,541.0v-4.2 M334.3,18.0v4.2"/>
<path d="M359.3,541.0v-4.2 M359.3,18.0v4.2"/>
<path d="M380.5,541.0v-4.2 M380.5,18.0v4.2"/>
<path d="M398.8,541.0v-4.2 M398.8,18.0v4.2"/>
<path d="M414.9,541.0v-4.2 M414.9,18.0v4.2"/>
<path d="M429.4,541.0v-8.5 M429.4,18.0v8.5"/>
<path d="M524.5,541.0v-4.2 M524.5,18.0v4.2"/>
<path d="M580.1,541.0v-4.2 M580.1,18.0v4.2"/>
<path d="M619.5,541.0v-4.2 M619.5,18.0v4.2"/>
<path d="M650.1,541.0v-4.2 M650.1,18.0v4.2"/>
<path d="M675.1,541.0v-4.2 M675.1,18.0v4.2"/>
<path d="M696.3,541.0v-4.2 M696.3,18.0v4.2"/>
<path d="M714.6,541.0v-4.2 M714.6,18.0v4.2"/>
<path d="M730.7,541.0v-4.2 M730.7,18.0v4.2"/>
<path d="M745.2,541.0v-8.5 M745.2,18.0v8.5"/>
</g>
<g font-family="Liberation Sans, sans-serif" font-size="28" fill="#000">
<text x="96" y="30.4" text-anchor="end">10<tspan font-size="22.4" dy="-14.4">6</tspan></text>
<text x="96" y="82.7" text-anchor="end">10<tspan font-size="22.4" dy="-14.4">5</tspan></text>
<text x="96" y="135.0" text-anchor="end">10<tspan font-size="22.4" dy="-14.4">4</tspan></text>
<text x="96" y="187.3" text-anchor="end">10<tspan font-size="22.4" dy="-14.4">3</tspan></text>
<text x="96" y="239.6" text-anchor="end">10<tspan font-size="22.4" dy="-14.4">2</tspan></text>
<text x="96" y="291.9" text-anchor="end">10<tspan font-size="22.4" dy="-14.4">1</tspan></text>
<text x="96" y="344.2" text-anchor="end">10<tspan font-size="22.4" dy="-14.4">0</tspan></text>
<text x="96" y="396.5" text-anchor="end">10<tspan font-size="22.4" dy="-14.4">-1</tspan></text>
<text x="96" y="448.8" text-anchor="end">10<tspan font-size="22.4" dy="-14.4">-2</tspan></text>
<text x="96" y="501.1" text-anchor="end">10<tspan font-size="22.4" dy="-14.4">-3</tspan></text>
<text x="96" y="553.4" text-anchor="end">10<tspan font-size="22.4" dy="-14.4">-4</tspan></text>
<text x="117.1" y="578.5" text-anchor="middle">10</text>
<text x="432.9" y="578.5" text-anchor="middle">100</text>
<text x="748.7" y="578.5" text-anchor="middle">1000</text>
<text x="476.5" y="620" text-anchor="middle">l</text>
<text x="169.5" y="78.8">(a) PSF</text>
<text x="712.8" y="46.6" text-anchor="end"><tspan font-family="Liberation Serif, serif" font-size="30" stroke="#000" stroke-width="0.4">σ</tspan><tspan font-size="22.4" dy="8.3">psf</tspan><tspan dy="-8.3" fill="none"> =</tspan><tspan> 0.1 deg</tspan></text>
<path d="M595.8,36.7h14.3v2.1h-14.3z M595.8,41.7h14.3v2.1h-14.3z"/>
<text x="712.8" y="75.3" text-anchor="end"><tspan font-family="Liberation Serif, serif" font-size="30" stroke="#000" stroke-width="0.4">σ</tspan><tspan font-size="22.4" dy="8.3">psf</tspan><tspan dy="-8.3" fill="none"> =</tspan><tspan> 0.2 deg</tspan></text>
<path d="M595.8,65.4h14.3v2.1h-14.3z M595.8,70.4h14.3v2.1h-14.3z"/>
<text x="712.8" y="104.7" text-anchor="end">isotropic</text>
<text transform="translate(21.2,343.3) rotate(-90)" letter-spacing="0.12">l(l+1)C<tspan font-size="22.4" dy="8.4">l</tspan><tspan dy="-8.4">/2</tspan><tspan font-family="Liberation Serif, serif" font-size="30.5" stroke="#000" stroke-width="0.35">π</tspan></text>
</g>
</svg>
</body></html>
